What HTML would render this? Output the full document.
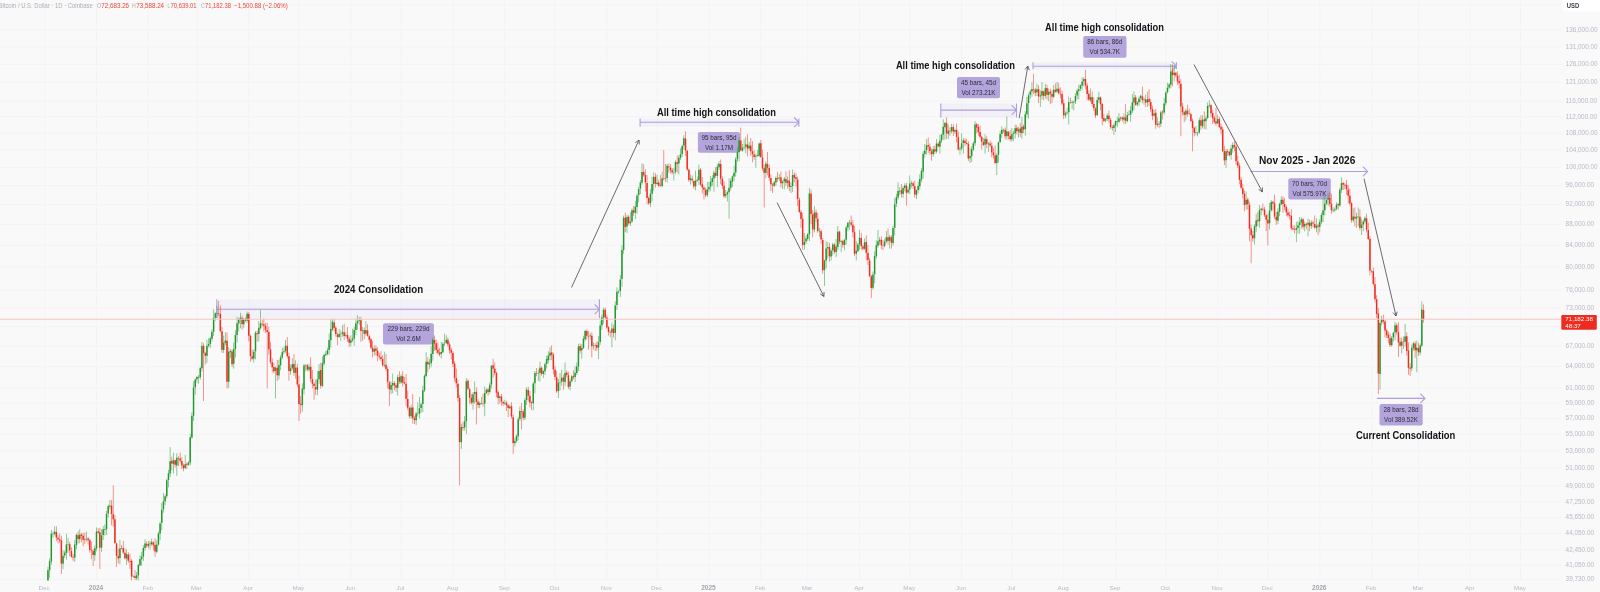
<!DOCTYPE html>
<html><head><meta charset="utf-8"><style>
html,body{margin:0;padding:0;width:1600px;height:592px;overflow:hidden;background:#f9f9fa;font-family:"Liberation Sans", sans-serif;}
</style></head><body>
<svg width="1600" height="592" viewBox="0 0 1600 592" style="position:absolute;left:0;top:0;will-change:transform"><rect width="1600" height="592" fill="#f9f9fa"/><path d="M0 30.10H1561 M0 46.83H1561 M0 64.21H1561 M0 82.29H1561 M0 101.14H1561 M0 116.81H1561 M0 133.05H1561 M0 149.91H1561 M0 167.42H1561 M0 185.65H1561 M0 204.66H1561 M0 224.51H1561 M0 245.29H1561 M0 267.08H1561 M0 289.99H1561 M0 307.97H1561 M0 326.71H1561 M0 346.28H1561 M0 366.73H1561 M0 388.18H1561 M0 403.06H1561 M0 418.46H1561 M0 434.42H1561 M0 450.96H1561 M0 468.14H1561 M0 486.00H1561 M0 502.25H1561 M0 517.63H1561 M0 533.57H1561 M0 550.09H1561 M0 565.07H1561 M0 579.66H1561 M0 4.75H1561 M44.62 0V580.5 M96.50 0V580.5 M148.38 0V580.5 M196.90 0V580.5 M248.78 0V580.5 M298.98 0V580.5 M350.86 0V580.5 M401.06 0V580.5 M452.93 0V580.5 M504.81 0V580.5 M555.01 0V580.5 M606.89 0V580.5 M657.09 0V580.5 M708.96 0V580.5 M760.84 0V580.5 M807.70 0V580.5 M859.57 0V580.5 M909.77 0V580.5 M961.65 0V580.5 M1011.85 0V580.5 M1063.73 0V580.5 M1115.60 0V580.5 M1165.80 0V580.5 M1217.68 0V580.5 M1267.88 0V580.5 M1319.76 0V580.5 M1371.63 0V580.5 M1418.49 0V580.5 M1470.36 0V580.5 M1520.56 0V580.5" stroke="#f3f3f5" stroke-width="1" fill="none"/><rect x="216.8" y="299.3" width="382.59999999999997" height="19.0" fill="rgba(160,140,210,0.07)"/><rect x="640.1" y="118.4" width="158.79999999999995" height="8.299999999999997" fill="rgba(160,140,210,0.07)"/><rect x="940.8" y="103.4" width="75.70000000000005" height="14.199999999999989" fill="rgba(160,140,210,0.07)"/><rect x="1033.0" y="62.2" width="143.4000000000001" height="7.0" fill="rgba(160,140,210,0.07)"/><rect x="383.0" y="323.3" width="50.9" height="21.3" rx="2" fill="#b4a4dc"/><text x="408.45" y="331.30" font-size="6.3" fill="#2b2b33" text-anchor="middle" font-family='"Liberation Sans", sans-serif'>229 bars, 229d</text><text x="408.45" y="340.90" font-size="6.3" fill="#2b2b33" text-anchor="middle" font-family='"Liberation Sans", sans-serif'>Vol 2.6M</text><rect x="697.9" y="131.95" width="42.1" height="20.85" rx="2" fill="#b4a4dc"/><text x="718.95" y="139.95" font-size="6.3" fill="#2b2b33" text-anchor="middle" font-family='"Liberation Sans", sans-serif'>95 bars, 95d</text><text x="718.95" y="149.55" font-size="6.3" fill="#2b2b33" text-anchor="middle" font-family='"Liberation Sans", sans-serif'>Vol 1.17M</text><rect x="957.0" y="77.0" width="43.0" height="21.2" rx="2" fill="#b4a4dc"/><text x="978.50" y="85.00" font-size="6.3" fill="#2b2b33" text-anchor="middle" font-family='"Liberation Sans", sans-serif'>45 bars, 45d</text><text x="978.50" y="94.60" font-size="6.3" fill="#2b2b33" text-anchor="middle" font-family='"Liberation Sans", sans-serif'>Vol 273.21K</text><rect x="1083.2" y="36.1" width="43.3" height="21.6" rx="2" fill="#b4a4dc"/><text x="1104.85" y="44.10" font-size="6.3" fill="#2b2b33" text-anchor="middle" font-family='"Liberation Sans", sans-serif'>86 bars, 86d</text><text x="1104.85" y="53.70" font-size="6.3" fill="#2b2b33" text-anchor="middle" font-family='"Liberation Sans", sans-serif'>Vol 534.7K</text><rect x="1288.3" y="178.2" width="42.5" height="21.3" rx="2" fill="#b4a4dc"/><text x="1309.55" y="186.20" font-size="6.3" fill="#2b2b33" text-anchor="middle" font-family='"Liberation Sans", sans-serif'>70 bars, 70d</text><text x="1309.55" y="195.80" font-size="6.3" fill="#2b2b33" text-anchor="middle" font-family='"Liberation Sans", sans-serif'>Vol 575.97K</text><rect x="1379.5" y="403.9" width="43.2" height="21.6" rx="2" fill="#b4a4dc"/><text x="1401.10" y="411.90" font-size="6.3" fill="#2b2b33" text-anchor="middle" font-family='"Liberation Sans", sans-serif'>28 bars, 28d</text><text x="1401.10" y="421.50" font-size="6.3" fill="#2b2b33" text-anchor="middle" font-family='"Liberation Sans", sans-serif'>Vol 389.52K</text><path d="M216.8 309.3H599.4 M594.6999999999999 304.5L599.4 309.3L594.6999999999999 314.1 M216.8 299.3V318.3 M599.4 299.3V318.3" stroke="#b09ddd" stroke-width="1.1" fill="none"/><path d="M640.1 122.3H798.9 M794.1999999999999 117.5L798.9 122.3L794.1999999999999 127.1 M640.1 118.4V126.7 M798.9 118.4V126.7" stroke="#b09ddd" stroke-width="1.1" fill="none"/><path d="M940.8 110.1H1016.5 M1011.8 105.3L1016.5 110.1L1011.8 114.89999999999999 M940.8 103.4V117.6 M1016.5 103.4V117.6" stroke="#b09ddd" stroke-width="1.1" fill="none"/><path d="M1033.0 66.2H1176.4 M1171.7 61.400000000000006L1176.4 66.2L1171.7 71.0 M1033.0 62.2V69.2 M1176.4 62.2V69.2" stroke="#b09ddd" stroke-width="1.1" fill="none"/><path d="M1250.3 171.5H1367.6 M1362.8999999999999 166.7L1367.6 171.5L1362.8999999999999 176.3" stroke="#b09ddd" stroke-width="1.1" fill="none"/><path d="M1376.9 398.4H1425.0 M1420.3 393.59999999999997L1425.0 398.4L1420.3 403.2" stroke="#b09ddd" stroke-width="1.1" fill="none"/><g clip-path="url(#plot)"><defs><clipPath id="plot"><rect x="0" y="0" width="1561" height="580.5"/></clipPath></defs><path d="M-4.30 609.33h0.8V630.40h-0.8zM0.72 602.11h0.8V618.62h-0.8zM4.06 608.12h0.8V615.43h-0.8zM5.74 600.72h0.8V614.95h-0.8zM9.08 611.02h0.8V618.79h-0.8zM10.76 603.12h0.8V617.57h-0.8zM15.78 605.58h0.8V617.47h-0.8zM17.45 601.98h0.8V620.31h-0.8zM19.12 601.19h0.8V612.03h-0.8zM22.47 605.74h0.8V616.81h-0.8zM24.14 600.32h0.8V613.22h-0.8zM25.82 597.86h0.8V610.06h-0.8zM29.16 604.29h0.8V614.66h-0.8zM30.84 597.31h0.8V608.49h-0.8zM34.18 601.14h0.8V611.66h-0.8zM35.86 597.83h0.8V605.17h-0.8zM39.20 591.52h0.8V604.78h-0.8zM42.55 594.72h0.8V610.68h-0.8zM44.22 596.03h0.8V601.73h-0.8zM47.57 566.64h0.8V608.38h-0.8zM49.24 558.33h0.8V577.66h-0.8zM50.92 529.71h0.8V564.61h-0.8zM52.59 531.28h0.8V538.06h-0.8zM54.27 526.18h0.8V535.58h-0.8zM62.63 550.28h0.8V568.99h-0.8zM64.31 550.47h0.8V558.09h-0.8zM65.98 533.66h0.8V559.74h-0.8zM67.65 537.81h0.8V552.79h-0.8zM74.35 540.17h0.8V562.09h-0.8zM76.02 533.60h0.8V549.15h-0.8zM79.37 529.19h0.8V543.16h-0.8zM86.06 531.63h0.8V541.63h-0.8zM94.43 545.60h0.8V560.81h-0.8zM96.10 527.54h0.8V551.22h-0.8zM101.12 529.17h0.8V551.82h-0.8zM102.79 525.93h0.8V539.96h-0.8zM104.47 524.58h0.8V535.51h-0.8zM106.14 510.79h0.8V535.02h-0.8zM107.81 504.54h0.8V517.38h-0.8zM109.49 500.07h0.8V509.22h-0.8zM119.53 539.93h0.8V564.28h-0.8zM126.22 549.38h0.8V565.04h-0.8zM132.91 575.37h0.8V577.82h-0.8zM136.26 572.00h0.8V580.61h-0.8zM137.94 563.70h0.8V580.83h-0.8zM139.61 555.25h0.8V566.61h-0.8zM141.28 551.75h0.8V565.64h-0.8zM142.96 545.25h0.8V561.07h-0.8zM144.63 539.14h0.8V550.72h-0.8zM147.98 541.00h0.8V548.14h-0.8zM151.32 538.58h0.8V546.15h-0.8zM156.34 540.21h0.8V553.15h-0.8zM158.02 531.53h0.8V545.74h-0.8zM159.69 521.84h0.8V540.20h-0.8zM161.36 502.99h0.8V530.31h-0.8zM163.04 492.96h0.8V512.66h-0.8zM164.71 494.38h0.8V505.00h-0.8zM166.38 478.77h0.8V498.54h-0.8zM168.06 469.60h0.8V487.23h-0.8zM169.73 447.12h0.8V476.92h-0.8zM173.08 452.74h0.8V473.46h-0.8zM176.42 453.17h0.8V475.80h-0.8zM184.79 455.10h0.8V469.35h-0.8zM188.14 461.03h0.8V465.96h-0.8zM189.81 434.03h0.8V465.28h-0.8zM191.48 412.17h0.8V438.54h-0.8zM193.16 381.33h0.8V421.10h-0.8zM194.83 378.41h0.8V394.53h-0.8zM196.50 376.01h0.8V382.74h-0.8zM198.18 374.92h0.8V383.78h-0.8zM199.85 366.56h0.8V379.79h-0.8zM201.52 341.90h0.8V371.77h-0.8zM206.54 339.81h0.8V363.08h-0.8zM208.22 338.26h0.8V347.57h-0.8zM209.89 336.44h0.8V347.88h-0.8zM211.56 329.47h0.8V341.56h-0.8zM213.24 309.12h0.8V336.30h-0.8zM214.91 312.37h0.8V320.81h-0.8zM216.58 305.71h0.8V318.32h-0.8zM223.28 335.49h0.8V353.04h-0.8zM224.95 332.15h0.8V345.33h-0.8zM228.30 347.20h0.8V387.96h-0.8zM229.97 348.99h0.8V358.11h-0.8zM233.32 342.50h0.8V368.75h-0.8zM234.99 330.27h0.8V357.47h-0.8zM236.67 316.70h0.8V342.49h-0.8zM238.34 317.77h0.8V331.45h-0.8zM240.01 312.67h0.8V328.13h-0.8zM243.36 317.79h0.8V327.86h-0.8zM246.71 311.55h0.8V323.11h-0.8zM253.40 349.45h0.8V362.42h-0.8zM255.07 331.02h0.8V359.57h-0.8zM258.42 321.34h0.8V341.17h-0.8zM260.09 309.75h0.8V329.61h-0.8zM275.15 366.45h0.8V398.50h-0.8zM278.50 359.85h0.8V379.50h-0.8zM280.17 355.32h0.8V370.28h-0.8zM281.85 347.64h0.8V359.13h-0.8zM283.52 347.29h0.8V354.06h-0.8zM285.19 339.75h0.8V352.70h-0.8zM290.21 364.47h0.8V374.83h-0.8zM291.89 358.16h0.8V369.63h-0.8zM295.23 360.30h0.8V378.72h-0.8zM301.93 383.34h0.8V411.48h-0.8zM303.60 363.82h0.8V394.26h-0.8zM305.28 364.16h0.8V371.20h-0.8zM308.62 363.77h0.8V371.72h-0.8zM316.99 370.90h0.8V395.21h-0.8zM318.66 364.00h0.8V383.71h-0.8zM322.01 356.51h0.8V387.27h-0.8zM323.68 353.43h0.8V365.49h-0.8zM325.36 351.03h0.8V356.30h-0.8zM327.03 347.63h0.8V355.17h-0.8zM328.70 333.35h0.8V354.73h-0.8zM330.38 319.51h0.8V347.85h-0.8zM332.05 319.34h0.8V331.09h-0.8zM338.74 328.94h0.8V338.04h-0.8zM340.42 330.47h0.8V340.89h-0.8zM342.09 325.35h0.8V336.90h-0.8zM345.44 331.91h0.8V337.35h-0.8zM350.46 335.14h0.8V346.44h-0.8zM352.13 328.76h0.8V342.09h-0.8zM353.80 326.85h0.8V345.75h-0.8zM355.48 318.87h0.8V335.26h-0.8zM357.15 315.16h0.8V329.70h-0.8zM358.82 317.03h0.8V325.34h-0.8zM362.17 327.11h0.8V340.68h-0.8zM365.52 320.91h0.8V335.67h-0.8zM373.88 345.36h0.8V355.56h-0.8zM383.92 351.63h0.8V367.31h-0.8zM390.62 381.42h0.8V394.05h-0.8zM392.29 373.38h0.8V393.35h-0.8zM397.31 374.41h0.8V395.40h-0.8zM400.66 374.32h0.8V383.99h-0.8zM410.70 404.80h0.8V418.80h-0.8zM415.72 411.64h0.8V425.01h-0.8zM417.39 402.22h0.8V416.44h-0.8zM419.07 396.93h0.8V418.60h-0.8zM420.74 402.43h0.8V412.90h-0.8zM422.41 385.65h0.8V411.99h-0.8zM424.09 374.21h0.8V391.98h-0.8zM425.76 352.31h0.8V377.25h-0.8zM429.11 359.07h0.8V368.88h-0.8zM430.78 345.64h0.8V367.24h-0.8zM432.45 337.22h0.8V360.70h-0.8zM440.82 341.82h0.8V358.55h-0.8zM442.49 342.23h0.8V353.07h-0.8zM444.17 333.49h0.8V345.94h-0.8zM445.84 335.33h0.8V343.96h-0.8zM460.90 423.83h0.8V448.95h-0.8zM464.25 416.07h0.8V430.49h-0.8zM465.92 378.04h0.8V433.99h-0.8zM472.62 391.93h0.8V409.46h-0.8zM474.29 381.62h0.8V403.91h-0.8zM479.31 401.13h0.8V408.30h-0.8zM480.98 397.12h0.8V404.21h-0.8zM484.33 386.56h0.8V416.19h-0.8zM486.00 388.32h0.8V394.03h-0.8zM489.35 382.53h0.8V393.84h-0.8zM491.02 364.95h0.8V388.50h-0.8zM499.39 395.42h0.8V403.54h-0.8zM504.41 399.63h0.8V405.02h-0.8zM509.43 404.52h0.8V409.12h-0.8zM514.45 437.71h0.8V446.46h-0.8zM516.12 434.42h0.8V442.57h-0.8zM517.80 416.82h0.8V440.36h-0.8zM519.47 406.58h0.8V421.04h-0.8zM524.49 398.05h0.8V419.91h-0.8zM526.16 387.24h0.8V405.04h-0.8zM532.86 382.01h0.8V410.28h-0.8zM534.53 370.90h0.8V393.15h-0.8zM537.88 369.62h0.8V381.11h-0.8zM539.55 361.84h0.8V381.44h-0.8zM542.90 370.06h0.8V377.92h-0.8zM544.57 362.48h0.8V375.08h-0.8zM546.24 355.64h0.8V368.45h-0.8zM547.92 351.32h0.8V363.13h-0.8zM549.59 346.99h0.8V360.21h-0.8zM557.96 379.01h0.8V398.01h-0.8zM559.63 372.98h0.8V390.48h-0.8zM561.31 369.83h0.8V385.43h-0.8zM564.65 362.44h0.8V386.27h-0.8zM569.67 378.55h0.8V390.60h-0.8zM571.35 374.67h0.8V382.50h-0.8zM574.69 366.27h0.8V382.03h-0.8zM576.37 362.27h0.8V375.04h-0.8zM578.04 343.65h0.8V370.95h-0.8zM581.39 343.89h0.8V358.64h-0.8zM583.06 335.78h0.8V349.05h-0.8zM584.73 329.80h0.8V341.36h-0.8zM589.75 332.87h0.8V339.68h-0.8zM593.10 342.56h0.8V349.62h-0.8zM598.12 336.01h0.8V358.91h-0.8zM599.79 320.71h0.8V344.68h-0.8zM601.47 314.58h0.8V329.63h-0.8zM603.14 307.81h0.8V323.79h-0.8zM611.51 322.62h0.8V347.25h-0.8zM614.85 301.30h0.8V340.30h-0.8zM616.53 287.24h0.8V310.12h-0.8zM618.20 290.23h0.8V293.64h-0.8zM619.87 274.97h0.8V296.89h-0.8zM621.55 245.12h0.8V286.83h-0.8zM623.22 215.54h0.8V253.82h-0.8zM626.57 214.68h0.8V232.96h-0.8zM629.91 212.22h0.8V225.89h-0.8zM631.59 208.49h0.8V222.59h-0.8zM634.93 201.32h0.8V219.12h-0.8zM636.61 193.85h0.8V213.77h-0.8zM638.28 186.81h0.8V202.19h-0.8zM639.96 180.03h0.8V193.88h-0.8zM641.63 163.14h0.8V184.78h-0.8zM650.00 188.92h0.8V207.08h-0.8zM651.67 176.83h0.8V201.30h-0.8zM653.34 172.32h0.8V191.18h-0.8zM656.69 174.75h0.8V185.27h-0.8zM661.71 171.58h0.8V187.38h-0.8zM666.73 163.70h0.8V182.46h-0.8zM673.42 168.05h0.8V180.40h-0.8zM675.10 160.16h0.8V174.19h-0.8zM678.44 155.07h0.8V174.27h-0.8zM680.12 148.13h0.8V159.92h-0.8zM681.79 144.48h0.8V156.86h-0.8zM683.46 135.20h0.8V149.44h-0.8zM690.16 174.62h0.8V184.57h-0.8zM695.18 170.62h0.8V190.31h-0.8zM696.85 176.41h0.8V181.76h-0.8zM698.52 164.46h0.8V185.08h-0.8zM706.89 182.00h0.8V196.98h-0.8zM708.56 181.77h0.8V192.29h-0.8zM710.24 176.10h0.8V190.95h-0.8zM711.91 175.19h0.8V185.70h-0.8zM713.58 170.58h0.8V191.81h-0.8zM716.93 163.72h0.8V187.21h-0.8zM718.60 161.37h0.8V169.99h-0.8zM725.30 190.11h0.8V198.37h-0.8zM726.97 190.79h0.8V201.41h-0.8zM728.65 178.24h0.8V218.75h-0.8zM730.32 178.84h0.8V190.50h-0.8zM731.99 175.22h0.8V186.89h-0.8zM733.67 165.82h0.8V181.21h-0.8zM735.34 156.91h0.8V176.69h-0.8zM737.01 147.21h0.8V161.67h-0.8zM738.69 137.18h0.8V160.92h-0.8zM742.03 143.93h0.8V151.79h-0.8zM743.71 138.95h0.8V149.39h-0.8zM745.38 136.83h0.8V153.27h-0.8zM748.73 142.12h0.8V150.73h-0.8zM755.42 153.65h0.8V167.73h-0.8zM757.09 149.94h0.8V156.66h-0.8zM758.77 142.43h0.8V157.28h-0.8zM765.46 161.19h0.8V178.13h-0.8zM773.83 180.99h0.8V187.03h-0.8zM775.50 176.32h0.8V185.92h-0.8zM778.85 173.94h0.8V181.12h-0.8zM782.19 180.47h0.8V189.09h-0.8zM783.87 176.93h0.8V189.27h-0.8zM787.21 176.53h0.8V188.83h-0.8zM790.56 182.33h0.8V192.88h-0.8zM792.23 169.56h0.8V192.03h-0.8zM803.95 233.05h0.8V249.79h-0.8zM805.62 235.49h0.8V243.95h-0.8zM807.30 233.17h0.8V240.68h-0.8zM808.97 187.99h0.8V241.05h-0.8zM813.99 206.21h0.8V232.33h-0.8zM819.01 227.76h0.8V236.65h-0.8zM824.03 259.74h0.8V286.10h-0.8zM825.70 241.51h0.8V268.19h-0.8zM827.38 241.69h0.8V258.43h-0.8zM830.72 248.71h0.8V260.49h-0.8zM832.40 242.76h0.8V255.46h-0.8zM835.74 239.01h0.8V257.15h-0.8zM837.42 225.91h0.8V250.32h-0.8zM840.76 239.85h0.8V252.33h-0.8zM844.11 238.67h0.8V250.28h-0.8zM845.78 225.43h0.8V244.47h-0.8zM847.46 221.89h0.8V231.17h-0.8zM849.13 219.92h0.8V229.89h-0.8zM855.82 240.89h0.8V260.39h-0.8zM857.50 243.01h0.8V252.12h-0.8zM859.17 229.75h0.8V249.72h-0.8zM864.19 238.45h0.8V250.12h-0.8zM872.56 271.51h0.8V289.61h-0.8zM874.23 251.18h0.8V283.29h-0.8zM875.90 240.27h0.8V258.82h-0.8zM877.58 229.99h0.8V247.68h-0.8zM879.25 236.96h0.8V244.89h-0.8zM884.27 238.63h0.8V247.17h-0.8zM885.94 231.07h0.8V242.77h-0.8zM889.29 234.70h0.8V248.78h-0.8zM892.64 226.03h0.8V245.60h-0.8zM894.31 198.13h0.8V235.62h-0.8zM895.99 193.69h0.8V207.12h-0.8zM897.66 182.26h0.8V199.75h-0.8zM899.33 187.11h0.8V195.30h-0.8zM902.68 186.08h0.8V197.86h-0.8zM904.35 183.21h0.8V191.19h-0.8zM907.70 187.16h0.8V193.41h-0.8zM909.37 175.57h0.8V194.22h-0.8zM911.05 180.84h0.8V187.55h-0.8zM916.07 189.28h0.8V198.96h-0.8zM917.74 181.42h0.8V193.35h-0.8zM919.41 174.15h0.8V189.63h-0.8zM921.09 168.22h0.8V182.34h-0.8zM922.76 150.97h0.8V178.27h-0.8zM924.43 144.03h0.8V157.84h-0.8zM926.11 139.37h0.8V154.80h-0.8zM932.80 146.08h0.8V156.69h-0.8zM936.15 138.97h0.8V153.37h-0.8zM939.49 134.79h0.8V153.47h-0.8zM941.17 133.77h0.8V142.94h-0.8zM942.84 119.21h0.8V139.79h-0.8zM944.51 121.83h0.8V139.68h-0.8zM947.86 124.51h0.8V139.04h-0.8zM951.21 124.00h0.8V133.45h-0.8zM954.55 128.45h0.8V134.10h-0.8zM959.57 146.28h0.8V154.87h-0.8zM961.25 133.30h0.8V150.39h-0.8zM962.92 138.31h0.8V153.61h-0.8zM969.61 147.64h0.8V163.10h-0.8zM971.29 146.08h0.8V161.94h-0.8zM972.96 141.39h0.8V150.87h-0.8zM974.63 121.21h0.8V146.07h-0.8zM984.68 134.33h0.8V153.83h-0.8zM988.02 142.00h0.8V152.06h-0.8zM996.39 153.30h0.8V175.00h-0.8zM998.06 141.50h0.8V162.77h-0.8zM999.74 130.79h0.8V143.29h-0.8zM1001.41 126.24h0.8V137.91h-0.8zM1003.08 128.51h0.8V132.97h-0.8zM1006.43 116.54h0.8V139.74h-0.8zM1011.45 127.99h0.8V141.35h-0.8zM1013.12 130.75h0.8V141.20h-0.8zM1014.80 124.78h0.8V138.40h-0.8zM1018.14 126.93h0.8V137.52h-0.8zM1021.49 116.82h0.8V138.84h-0.8zM1024.84 111.02h0.8V135.71h-0.8zM1026.51 97.09h0.8V117.43h-0.8zM1028.18 93.24h0.8V118.46h-0.8zM1029.86 89.72h0.8V98.50h-0.8zM1031.53 82.31h0.8V96.78h-0.8zM1036.55 83.69h0.8V95.99h-0.8zM1039.90 90.30h0.8V107.01h-0.8zM1041.57 82.07h0.8V99.55h-0.8zM1044.92 83.95h0.8V98.56h-0.8zM1048.26 88.39h0.8V101.14h-0.8zM1053.28 85.35h0.8V98.19h-0.8zM1056.63 82.07h0.8V93.28h-0.8zM1065.00 111.14h0.8V118.31h-0.8zM1066.67 107.79h0.8V114.67h-0.8zM1068.35 96.38h0.8V124.54h-0.8zM1071.69 100.34h0.8V108.99h-0.8zM1073.37 100.71h0.8V110.33h-0.8zM1075.04 93.34h0.8V104.05h-0.8zM1076.71 88.52h0.8V99.22h-0.8zM1078.39 84.59h0.8V99.40h-0.8zM1080.06 84.47h0.8V90.95h-0.8zM1081.73 77.33h0.8V89.66h-0.8zM1083.41 77.30h0.8V86.26h-0.8zM1090.10 88.49h0.8V102.00h-0.8zM1096.79 96.93h0.8V116.12h-0.8zM1098.47 91.79h0.8V103.08h-0.8zM1105.16 118.26h0.8V122.26h-0.8zM1106.83 113.22h0.8V120.91h-0.8zM1113.53 123.60h0.8V135.10h-0.8zM1115.20 120.51h0.8V131.88h-0.8zM1116.87 116.57h0.8V127.34h-0.8zM1118.55 112.95h0.8V123.33h-0.8zM1123.57 113.31h0.8V123.84h-0.8zM1126.91 111.66h0.8V122.39h-0.8zM1128.59 110.38h0.8V115.77h-0.8zM1130.26 105.92h0.8V122.06h-0.8zM1131.93 93.93h0.8V113.12h-0.8zM1133.61 91.48h0.8V110.36h-0.8zM1136.95 101.14h0.8V106.30h-0.8zM1138.63 96.29h0.8V105.85h-0.8zM1140.30 94.71h0.8V102.33h-0.8zM1143.65 97.86h0.8V104.66h-0.8zM1147.00 91.75h0.8V106.93h-0.8zM1153.69 109.94h0.8V116.64h-0.8zM1157.04 117.19h0.8V126.89h-0.8zM1160.38 110.69h0.8V127.08h-0.8zM1163.73 97.85h0.8V114.69h-0.8zM1165.40 91.62h0.8V105.61h-0.8zM1167.08 82.75h0.8V93.49h-0.8zM1168.75 83.05h0.8V89.21h-0.8zM1170.42 64.05h0.8V88.31h-0.8zM1173.77 65.00h0.8V81.24h-0.8zM1185.48 108.74h0.8V120.51h-0.8zM1195.52 126.08h0.8V135.34h-0.8zM1197.20 131.72h0.8V136.30h-0.8zM1198.87 117.69h0.8V133.63h-0.8zM1202.22 115.36h0.8V128.17h-0.8zM1205.56 115.69h0.8V129.53h-0.8zM1207.24 102.46h0.8V119.12h-0.8zM1208.91 100.00h0.8V107.58h-0.8zM1217.28 114.89h0.8V124.26h-0.8zM1225.64 148.91h0.8V167.81h-0.8zM1230.67 144.73h0.8V159.74h-0.8zM1232.34 142.26h0.8V152.80h-0.8zM1245.73 191.53h0.8V209.49h-0.8zM1254.09 224.32h0.8V244.77h-0.8zM1255.77 213.75h0.8V232.35h-0.8zM1259.11 205.10h0.8V227.73h-0.8zM1260.79 207.42h0.8V215.21h-0.8zM1269.15 202.97h0.8V229.44h-0.8zM1270.83 200.07h0.8V211.87h-0.8zM1277.52 208.34h0.8V224.01h-0.8zM1279.19 202.40h0.8V216.32h-0.8zM1280.87 196.22h0.8V205.24h-0.8zM1295.93 221.75h0.8V242.20h-0.8zM1297.60 221.24h0.8V233.68h-0.8zM1299.27 216.98h0.8V233.80h-0.8zM1300.95 217.20h0.8V228.45h-0.8zM1304.29 221.55h0.8V231.58h-0.8zM1307.64 218.65h0.8V236.22h-0.8zM1310.99 220.58h0.8V228.77h-0.8zM1316.01 218.42h0.8V232.15h-0.8zM1319.36 219.34h0.8V232.48h-0.8zM1321.03 212.67h0.8V224.35h-0.8zM1322.70 198.21h0.8V222.05h-0.8zM1324.38 195.87h0.8V215.41h-0.8zM1326.05 199.09h0.8V204.66h-0.8zM1327.72 193.27h0.8V205.64h-0.8zM1332.74 207.37h0.8V212.60h-0.8zM1334.42 207.43h0.8V211.80h-0.8zM1336.09 202.22h0.8V210.33h-0.8zM1339.44 187.81h0.8V206.82h-0.8zM1341.11 177.20h0.8V193.11h-0.8zM1352.82 208.29h0.8V222.50h-0.8zM1356.17 212.84h0.8V228.00h-0.8zM1357.84 207.54h0.8V226.15h-0.8zM1361.19 218.63h0.8V234.88h-0.8zM1362.86 219.75h0.8V231.25h-0.8zM1364.54 216.41h0.8V223.73h-0.8zM1379.60 320.49h0.8V389.47h-0.8zM1381.27 315.66h0.8V325.45h-0.8zM1391.31 335.95h0.8V346.50h-0.8zM1392.98 331.94h0.8V341.53h-0.8zM1394.66 321.73h0.8V340.17h-0.8zM1401.35 337.79h0.8V353.57h-0.8zM1404.70 324.06h0.8V346.87h-0.8zM1411.39 344.38h0.8V371.17h-0.8zM1413.07 342.11h0.8V350.49h-0.8zM1416.41 340.61h0.8V372.30h-0.8zM1419.76 343.52h0.8V355.26h-0.8zM1421.43 301.55h0.8V346.85h-0.8z" fill="#22992e" opacity="0.62"/><path d="M-5.98 611.56h0.8V622.95h-0.8zM-2.63 611.94h0.8V617.75h-0.8zM-0.96 609.87h0.8V622.54h-0.8zM2.39 608.15h0.8V617.34h-0.8zM7.41 603.94h0.8V620.71h-0.8zM12.43 605.70h0.8V612.35h-0.8zM14.10 605.64h0.8V615.09h-0.8zM20.80 600.12h0.8V613.48h-0.8zM27.49 595.99h0.8V612.66h-0.8zM32.51 599.97h0.8V615.06h-0.8zM37.53 590.87h0.8V607.04h-0.8zM40.88 590.00h0.8V609.97h-0.8zM45.90 596.90h0.8V611.91h-0.8zM55.94 526.30h0.8V541.14h-0.8zM57.61 535.30h0.8V543.42h-0.8zM59.29 533.26h0.8V542.72h-0.8zM60.96 535.67h0.8V574.00h-0.8zM69.33 541.69h0.8V556.60h-0.8zM71.00 547.27h0.8V557.66h-0.8zM72.67 553.97h0.8V561.08h-0.8zM77.69 531.56h0.8V543.40h-0.8zM81.04 532.92h0.8V542.06h-0.8zM82.71 532.49h0.8V546.26h-0.8zM84.39 532.69h0.8V543.94h-0.8zM87.73 537.22h0.8V544.80h-0.8zM89.41 538.71h0.8V552.76h-0.8zM91.08 541.84h0.8V559.04h-0.8zM92.75 549.21h0.8V566.07h-0.8zM97.77 528.25h0.8V533.83h-0.8zM99.45 527.69h0.8V569.00h-0.8zM111.16 499.89h0.8V525.24h-0.8zM112.83 485.25h0.8V526.74h-0.8zM114.51 514.88h0.8V544.05h-0.8zM116.18 542.47h0.8V566.84h-0.8zM117.85 548.43h0.8V563.45h-0.8zM121.20 544.90h0.8V549.36h-0.8zM122.87 541.06h0.8V554.01h-0.8zM124.55 547.84h0.8V559.58h-0.8zM127.89 552.35h0.8V562.80h-0.8zM129.57 553.76h0.8V568.93h-0.8zM131.24 559.06h0.8V591.38h-0.8zM134.59 569.97h0.8V580.02h-0.8zM146.30 541.33h0.8V547.78h-0.8zM149.65 540.73h0.8V549.55h-0.8zM153.00 541.29h0.8V550.16h-0.8zM154.67 538.20h0.8V556.74h-0.8zM171.40 456.59h0.8V470.57h-0.8zM174.75 459.38h0.8V467.41h-0.8zM178.10 456.37h0.8V465.95h-0.8zM179.77 452.41h0.8V462.42h-0.8zM181.44 457.33h0.8V469.06h-0.8zM183.12 463.54h0.8V471.28h-0.8zM186.46 462.54h0.8V468.89h-0.8zM203.20 343.25h0.8V401.00h-0.8zM204.87 351.72h0.8V364.56h-0.8zM218.26 301.00h0.8V316.19h-0.8zM219.93 305.59h0.8V332.46h-0.8zM221.60 326.89h0.8V352.70h-0.8zM226.63 332.62h0.8V388.50h-0.8zM231.65 349.19h0.8V367.04h-0.8zM241.69 315.51h0.8V329.69h-0.8zM245.03 317.58h0.8V321.73h-0.8zM248.38 311.91h0.8V341.37h-0.8zM250.05 334.57h0.8V361.68h-0.8zM251.73 349.56h0.8V360.35h-0.8zM256.75 330.44h0.8V341.76h-0.8zM261.77 319.76h0.8V326.80h-0.8zM263.44 318.47h0.8V331.62h-0.8zM265.11 323.09h0.8V333.09h-0.8zM266.79 322.81h0.8V388.50h-0.8zM268.46 326.81h0.8V354.81h-0.8zM270.13 341.97h0.8V364.27h-0.8zM271.81 357.94h0.8V372.41h-0.8zM273.48 362.83h0.8V373.46h-0.8zM276.83 359.99h0.8V381.06h-0.8zM286.87 337.03h0.8V358.53h-0.8zM288.54 352.79h0.8V380.67h-0.8zM293.56 353.88h0.8V375.69h-0.8zM296.91 363.79h0.8V387.55h-0.8zM298.58 375.71h0.8V421.00h-0.8zM300.25 396.09h0.8V413.83h-0.8zM306.95 364.30h0.8V371.35h-0.8zM310.30 357.20h0.8V382.20h-0.8zM311.97 370.04h0.8V388.31h-0.8zM313.64 382.37h0.8V399.84h-0.8zM315.32 379.55h0.8V394.97h-0.8zM320.34 362.67h0.8V388.39h-0.8zM333.72 318.78h0.8V331.43h-0.8zM335.40 325.98h0.8V336.70h-0.8zM337.07 332.64h0.8V345.23h-0.8zM343.76 323.66h0.8V340.05h-0.8zM347.11 327.00h0.8V342.08h-0.8zM348.78 336.60h0.8V347.08h-0.8zM360.50 316.86h0.8V341.79h-0.8zM363.84 327.47h0.8V339.30h-0.8zM367.19 324.18h0.8V336.81h-0.8zM368.86 334.83h0.8V342.66h-0.8zM370.54 337.79h0.8V349.00h-0.8zM372.21 340.48h0.8V357.20h-0.8zM375.56 345.30h0.8V355.76h-0.8zM377.23 347.16h0.8V361.21h-0.8zM378.90 352.71h0.8V359.49h-0.8zM380.58 351.25h0.8V361.19h-0.8zM382.25 354.93h0.8V366.82h-0.8zM385.60 353.95h0.8V371.26h-0.8zM387.27 366.69h0.8V388.41h-0.8zM388.95 381.10h0.8V406.00h-0.8zM393.97 380.96h0.8V390.29h-0.8zM395.64 383.15h0.8V391.79h-0.8zM398.99 371.23h0.8V383.83h-0.8zM402.33 371.20h0.8V386.38h-0.8zM404.01 376.99h0.8V384.40h-0.8zM405.68 374.34h0.8V406.24h-0.8zM407.35 390.39h0.8V410.35h-0.8zM409.03 406.55h0.8V418.50h-0.8zM412.37 394.13h0.8V423.83h-0.8zM414.05 415.84h0.8V424.00h-0.8zM427.43 357.21h0.8V372.20h-0.8zM434.13 335.57h0.8V350.73h-0.8zM435.80 339.45h0.8V353.34h-0.8zM437.47 342.55h0.8V354.42h-0.8zM439.15 348.07h0.8V356.33h-0.8zM447.51 337.18h0.8V346.66h-0.8zM449.19 342.24h0.8V353.67h-0.8zM450.86 347.67h0.8V359.77h-0.8zM452.53 351.34h0.8V367.10h-0.8zM454.21 361.08h0.8V381.40h-0.8zM455.88 368.61h0.8V387.43h-0.8zM457.55 379.64h0.8V401.74h-0.8zM459.23 394.78h0.8V485.30h-0.8zM462.57 421.69h0.8V430.75h-0.8zM467.59 379.28h0.8V390.21h-0.8zM469.27 387.40h0.8V403.99h-0.8zM470.94 393.79h0.8V404.49h-0.8zM475.96 387.17h0.8V424.50h-0.8zM477.64 399.14h0.8V408.35h-0.8zM482.66 393.71h0.8V406.50h-0.8zM487.68 387.83h0.8V395.81h-0.8zM492.70 358.70h0.8V377.30h-0.8zM494.37 362.30h0.8V375.16h-0.8zM496.04 371.63h0.8V397.23h-0.8zM497.72 390.29h0.8V404.38h-0.8zM501.06 393.95h0.8V405.48h-0.8zM502.74 400.84h0.8V405.77h-0.8zM506.08 400.69h0.8V410.93h-0.8zM507.76 404.26h0.8V416.97h-0.8zM511.10 402.13h0.8V418.77h-0.8zM512.78 414.86h0.8V454.00h-0.8zM521.14 403.03h0.8V429.60h-0.8zM522.82 409.46h0.8V420.47h-0.8zM527.84 386.65h0.8V401.41h-0.8zM529.51 391.09h0.8V407.40h-0.8zM531.18 401.30h0.8V410.11h-0.8zM536.20 368.09h0.8V376.23h-0.8zM541.22 366.59h0.8V375.74h-0.8zM551.26 345.21h0.8V360.06h-0.8zM552.94 352.67h0.8V374.38h-0.8zM554.61 366.03h0.8V379.90h-0.8zM556.28 370.75h0.8V392.99h-0.8zM562.98 374.74h0.8V389.63h-0.8zM566.33 370.62h0.8V377.22h-0.8zM568.00 371.71h0.8V389.05h-0.8zM573.02 370.18h0.8V379.48h-0.8zM579.71 343.59h0.8V353.42h-0.8zM586.41 329.40h0.8V339.43h-0.8zM588.08 331.10h0.8V349.87h-0.8zM591.43 332.38h0.8V357.25h-0.8zM594.77 343.37h0.8V351.10h-0.8zM596.45 341.36h0.8V350.85h-0.8zM604.81 307.55h0.8V318.75h-0.8zM606.49 314.74h0.8V329.17h-0.8zM608.16 326.01h0.8V335.56h-0.8zM609.83 330.15h0.8V337.22h-0.8zM613.18 324.74h0.8V337.51h-0.8zM624.89 212.60h0.8V232.05h-0.8zM628.24 215.34h0.8V224.78h-0.8zM633.26 206.12h0.8V215.86h-0.8zM643.30 164.31h0.8V176.69h-0.8zM644.98 169.36h0.8V191.54h-0.8zM646.65 175.04h0.8V204.25h-0.8zM648.32 196.19h0.8V205.01h-0.8zM655.02 173.21h0.8V187.58h-0.8zM658.36 179.52h0.8V187.17h-0.8zM660.04 175.26h0.8V186.73h-0.8zM663.38 150.00h0.8V180.82h-0.8zM665.06 163.90h0.8V181.76h-0.8zM668.40 163.43h0.8V172.66h-0.8zM670.08 163.98h0.8V173.50h-0.8zM671.75 167.89h0.8V174.35h-0.8zM676.77 155.42h0.8V172.86h-0.8zM685.14 131.25h0.8V155.94h-0.8zM686.81 149.77h0.8V171.08h-0.8zM688.48 168.48h0.8V181.95h-0.8zM691.83 175.50h0.8V182.84h-0.8zM693.50 180.16h0.8V189.07h-0.8zM700.20 168.37h0.8V185.97h-0.8zM701.87 177.06h0.8V193.45h-0.8zM703.54 185.53h0.8V199.59h-0.8zM705.22 187.87h0.8V197.18h-0.8zM715.26 167.31h0.8V177.72h-0.8zM720.28 159.41h0.8V184.36h-0.8zM721.95 176.16h0.8V189.02h-0.8zM723.62 181.20h0.8V197.77h-0.8zM740.36 127.50h0.8V151.16h-0.8zM747.05 134.27h0.8V156.47h-0.8zM750.40 138.06h0.8V156.11h-0.8zM752.07 141.11h0.8V162.35h-0.8zM753.75 150.31h0.8V159.72h-0.8zM760.44 140.05h0.8V157.95h-0.8zM762.11 149.50h0.8V171.08h-0.8zM763.79 164.70h0.8V207.50h-0.8zM767.13 152.11h0.8V175.28h-0.8zM768.81 164.82h0.8V180.76h-0.8zM770.48 174.24h0.8V191.10h-0.8zM772.15 183.04h0.8V192.88h-0.8zM777.17 171.90h0.8V181.95h-0.8zM780.52 171.52h0.8V187.59h-0.8zM785.54 171.18h0.8V185.71h-0.8zM788.89 170.37h0.8V191.32h-0.8zM793.91 172.23h0.8V182.21h-0.8zM795.58 173.58h0.8V186.68h-0.8zM797.25 176.85h0.8V205.88h-0.8zM798.93 197.47h0.8V213.14h-0.8zM800.60 209.88h0.8V227.83h-0.8zM802.27 213.04h0.8V249.74h-0.8zM810.64 189.78h0.8V224.04h-0.8zM812.32 209.99h0.8V237.34h-0.8zM815.66 209.87h0.8V222.21h-0.8zM817.34 212.84h0.8V232.78h-0.8zM820.68 229.33h0.8V243.79h-0.8zM822.36 238.01h0.8V273.65h-0.8zM829.05 243.07h0.8V261.69h-0.8zM834.07 243.33h0.8V253.65h-0.8zM839.09 230.68h0.8V244.05h-0.8zM842.44 239.72h0.8V247.67h-0.8zM850.80 215.57h0.8V226.74h-0.8zM852.48 220.06h0.8V237.39h-0.8zM854.15 226.05h0.8V256.33h-0.8zM860.84 232.76h0.8V249.85h-0.8zM862.52 244.72h0.8V250.29h-0.8zM865.86 235.43h0.8V260.30h-0.8zM867.54 245.09h0.8V264.99h-0.8zM869.21 257.79h0.8V276.95h-0.8zM870.88 274.99h0.8V298.00h-0.8zM880.92 236.16h0.8V249.13h-0.8zM882.60 240.01h0.8V250.35h-0.8zM887.62 228.55h0.8V244.83h-0.8zM890.97 235.26h0.8V248.51h-0.8zM901.01 184.08h0.8V197.42h-0.8zM906.03 182.83h0.8V205.58h-0.8zM912.72 181.70h0.8V188.70h-0.8zM914.39 180.78h0.8V197.84h-0.8zM927.78 137.21h0.8V153.00h-0.8zM929.45 143.54h0.8V154.71h-0.8zM931.13 148.51h0.8V160.69h-0.8zM934.47 145.71h0.8V153.91h-0.8zM937.82 142.13h0.8V147.14h-0.8zM946.19 117.50h0.8V138.70h-0.8zM949.53 127.27h0.8V136.07h-0.8zM952.88 124.33h0.8V136.09h-0.8zM956.23 123.72h0.8V142.20h-0.8zM957.90 131.43h0.8V150.40h-0.8zM964.59 138.29h0.8V146.18h-0.8zM966.27 139.07h0.8V144.79h-0.8zM967.94 141.23h0.8V161.12h-0.8zM976.31 123.20h0.8V133.16h-0.8zM977.98 123.96h0.8V135.83h-0.8zM979.66 125.63h0.8V138.62h-0.8zM981.33 135.63h0.8V149.39h-0.8zM983.00 138.17h0.8V146.12h-0.8zM986.35 136.37h0.8V148.36h-0.8zM989.70 140.59h0.8V147.15h-0.8zM991.37 142.21h0.8V157.36h-0.8zM993.04 147.92h0.8V158.58h-0.8zM994.72 145.58h0.8V164.03h-0.8zM1004.76 127.45h0.8V139.16h-0.8zM1008.10 130.67h0.8V139.44h-0.8zM1009.78 130.36h0.8V141.56h-0.8zM1016.47 125.04h0.8V134.49h-0.8zM1019.82 123.03h0.8V137.12h-0.8zM1023.16 124.55h0.8V133.02h-0.8zM1033.20 73.75h0.8V93.91h-0.8zM1034.88 87.96h0.8V96.22h-0.8zM1038.22 85.36h0.8V103.02h-0.8zM1043.24 90.52h0.8V100.37h-0.8zM1046.59 84.65h0.8V99.42h-0.8zM1049.94 88.63h0.8V104.30h-0.8zM1051.61 90.20h0.8V103.06h-0.8zM1054.96 83.37h0.8V92.67h-0.8zM1058.30 82.81h0.8V94.54h-0.8zM1059.98 87.62h0.8V98.48h-0.8zM1061.65 90.46h0.8V105.26h-0.8zM1063.33 99.40h0.8V118.94h-0.8zM1070.02 97.80h0.8V103.51h-0.8zM1085.08 70.00h0.8V89.33h-0.8zM1086.75 83.00h0.8V100.25h-0.8zM1088.43 90.13h0.8V100.97h-0.8zM1091.77 91.62h0.8V106.71h-0.8zM1093.45 97.13h0.8V110.94h-0.8zM1095.12 107.35h0.8V117.91h-0.8zM1100.14 96.41h0.8V110.40h-0.8zM1101.81 102.80h0.8V125.59h-0.8zM1103.49 113.64h0.8V122.01h-0.8zM1108.51 110.60h0.8V122.78h-0.8zM1110.18 117.64h0.8V128.91h-0.8zM1111.85 124.96h0.8V130.63h-0.8zM1120.22 116.44h0.8V120.80h-0.8zM1121.89 116.29h0.8V121.47h-0.8zM1125.24 104.12h0.8V124.17h-0.8zM1135.28 94.95h0.8V106.02h-0.8zM1141.97 86.38h0.8V103.34h-0.8zM1145.32 94.79h0.8V106.89h-0.8zM1148.67 89.27h0.8V105.94h-0.8zM1150.34 99.24h0.8V112.21h-0.8zM1152.02 105.76h0.8V120.36h-0.8zM1155.36 108.79h0.8V128.84h-0.8zM1158.71 120.93h0.8V128.20h-0.8zM1162.06 110.02h0.8V119.57h-0.8zM1172.10 64.61h0.8V86.24h-0.8zM1175.44 71.71h0.8V77.53h-0.8zM1177.12 71.23h0.8V84.94h-0.8zM1178.79 74.44h0.8V88.58h-0.8zM1180.46 79.13h0.8V136.25h-0.8zM1182.14 102.80h0.8V115.44h-0.8zM1183.81 110.53h0.8V122.34h-0.8zM1187.16 104.47h0.8V116.69h-0.8zM1188.83 108.82h0.8V115.20h-0.8zM1190.50 112.80h0.8V122.05h-0.8zM1192.18 118.60h0.8V151.25h-0.8zM1193.85 126.83h0.8V136.51h-0.8zM1200.54 115.24h0.8V129.70h-0.8zM1203.89 111.60h0.8V129.06h-0.8zM1210.58 103.84h0.8V116.90h-0.8zM1212.26 109.72h0.8V123.99h-0.8zM1213.93 115.87h0.8V123.64h-0.8zM1215.60 107.63h0.8V125.66h-0.8zM1218.95 116.65h0.8V128.27h-0.8zM1220.62 123.76h0.8V133.63h-0.8zM1222.30 126.51h0.8V152.26h-0.8zM1223.97 146.29h0.8V164.92h-0.8zM1227.32 148.94h0.8V156.07h-0.8zM1228.99 150.49h0.8V156.45h-0.8zM1234.01 141.05h0.8V151.26h-0.8zM1235.69 141.98h0.8V165.04h-0.8zM1237.36 155.38h0.8V168.36h-0.8zM1239.03 163.13h0.8V184.14h-0.8zM1240.71 177.08h0.8V189.49h-0.8zM1242.38 183.67h0.8V198.22h-0.8zM1244.05 190.59h0.8V211.26h-0.8zM1247.40 197.38h0.8V209.87h-0.8zM1249.07 201.80h0.8V241.26h-0.8zM1250.75 224.51h0.8V263.30h-0.8zM1252.42 231.12h0.8V241.78h-0.8zM1257.44 211.79h0.8V226.13h-0.8zM1262.46 203.49h0.8V211.47h-0.8zM1264.13 206.72h0.8V217.01h-0.8zM1265.81 214.31h0.8V231.10h-0.8zM1267.48 213.84h0.8V245.60h-0.8zM1272.50 200.86h0.8V210.53h-0.8zM1274.17 194.51h0.8V218.93h-0.8zM1275.85 212.01h0.8V224.91h-0.8zM1282.54 196.52h0.8V212.79h-0.8zM1284.21 197.64h0.8V210.20h-0.8zM1285.89 205.27h0.8V216.07h-0.8zM1287.56 208.73h0.8V216.96h-0.8zM1289.23 211.66h0.8V219.46h-0.8zM1290.91 209.17h0.8V230.37h-0.8zM1292.58 225.14h0.8V230.39h-0.8zM1294.25 225.19h0.8V233.56h-0.8zM1302.62 218.16h0.8V229.46h-0.8zM1305.97 222.85h0.8V229.29h-0.8zM1309.31 219.60h0.8V231.29h-0.8zM1312.66 220.80h0.8V227.43h-0.8zM1314.34 215.48h0.8V228.70h-0.8zM1317.68 223.43h0.8V235.06h-0.8zM1329.40 191.76h0.8V206.65h-0.8zM1331.07 193.79h0.8V213.72h-0.8zM1337.76 202.77h0.8V209.75h-0.8zM1342.78 181.76h0.8V190.03h-0.8zM1344.46 183.10h0.8V189.17h-0.8zM1346.13 179.64h0.8V194.78h-0.8zM1347.80 185.15h0.8V203.51h-0.8zM1349.48 188.68h0.8V205.43h-0.8zM1351.15 201.90h0.8V222.82h-0.8zM1354.50 207.18h0.8V226.55h-0.8zM1359.52 209.37h0.8V230.16h-0.8zM1366.21 213.83h0.8V232.55h-0.8zM1367.88 222.57h0.8V239.88h-0.8zM1369.56 235.94h0.8V275.47h-0.8zM1371.23 269.73h0.8V273.02h-0.8zM1372.90 267.48h0.8V285.81h-0.8zM1374.58 277.12h0.8V302.57h-0.8zM1376.25 295.24h0.8V318.00h-0.8zM1377.92 307.99h0.8V393.90h-0.8zM1382.94 314.86h0.8V324.17h-0.8zM1384.62 319.81h0.8V337.54h-0.8zM1386.29 328.74h0.8V337.88h-0.8zM1387.96 331.58h0.8V343.21h-0.8zM1389.64 333.43h0.8V347.00h-0.8zM1396.33 323.31h0.8V334.70h-0.8zM1398.01 322.14h0.8V356.98h-0.8zM1399.68 337.68h0.8V346.77h-0.8zM1403.03 336.51h0.8V349.08h-0.8zM1406.37 332.32h0.8V355.77h-0.8zM1408.05 342.36h0.8V374.64h-0.8zM1409.72 363.29h0.8V376.10h-0.8zM1414.74 341.33h0.8V357.78h-0.8zM1418.09 342.85h0.8V355.95h-0.8zM1423.11 304.39h0.8V322.66h-0.8z" fill="#f22c1e" opacity="0.62"/><path d="M-4.65 614.12h1.5V620.60h-1.5zM0.37 611.71h1.5V615.21h-1.5zM3.71 612.91h1.5V613.51h-1.5zM5.39 607.50h1.5V612.76h-1.5zM8.73 613.09h1.5V614.89h-1.5zM10.41 609.15h1.5V613.56h-1.5zM15.43 608.67h1.5V611.27h-1.5zM17.10 608.22h1.5V608.82h-1.5zM18.77 604.32h1.5V608.10h-1.5zM22.12 607.74h1.5V609.61h-1.5zM23.79 607.66h1.5V608.26h-1.5zM25.47 602.11h1.5V607.60h-1.5zM28.81 605.81h1.5V610.55h-1.5zM30.49 603.79h1.5V606.38h-1.5zM33.83 603.75h1.5V610.07h-1.5zM35.51 599.31h1.5V603.81h-1.5zM38.85 596.21h1.5V601.46h-1.5zM42.20 600.20h1.5V605.13h-1.5zM43.87 598.78h1.5V600.42h-1.5zM47.22 570.13h1.5V603.20h-1.5zM48.89 561.20h1.5V570.16h-1.5zM50.57 533.77h1.5V561.38h-1.5zM52.24 533.70h1.5V534.30h-1.5zM53.91 531.82h1.5V534.04h-1.5zM62.28 555.65h1.5V563.85h-1.5zM63.96 552.72h1.5V555.60h-1.5zM65.63 544.58h1.5V552.90h-1.5zM67.30 544.41h1.5V545.05h-1.5zM74.00 544.78h1.5V557.38h-1.5zM75.67 534.78h1.5V545.12h-1.5zM79.02 534.43h1.5V539.22h-1.5zM85.71 538.73h1.5V539.33h-1.5zM94.08 548.23h1.5V555.30h-1.5zM95.75 531.66h1.5V548.46h-1.5zM100.77 535.33h1.5V547.46h-1.5zM102.44 529.36h1.5V534.91h-1.5zM104.12 529.34h1.5V529.94h-1.5zM105.79 513.64h1.5V529.35h-1.5zM107.46 506.37h1.5V513.54h-1.5zM109.14 505.58h1.5V506.68h-1.5zM119.18 548.62h1.5V558.10h-1.5zM125.87 554.02h1.5V558.38h-1.5zM132.56 576.41h1.5V577.01h-1.5zM135.91 575.18h1.5V578.27h-1.5zM137.59 564.98h1.5V575.32h-1.5zM139.26 559.11h1.5V565.20h-1.5zM140.93 556.42h1.5V559.33h-1.5zM142.61 547.95h1.5V556.38h-1.5zM144.28 543.57h1.5V548.05h-1.5zM147.63 543.97h1.5V546.27h-1.5zM150.97 542.11h1.5V544.15h-1.5zM155.99 544.45h1.5V551.66h-1.5zM157.67 533.46h1.5V544.49h-1.5zM159.34 523.47h1.5V533.40h-1.5zM161.01 509.69h1.5V522.87h-1.5zM162.69 501.24h1.5V509.48h-1.5zM164.36 496.27h1.5V501.27h-1.5zM166.03 480.34h1.5V496.32h-1.5zM167.71 473.19h1.5V480.12h-1.5zM169.38 461.15h1.5V473.57h-1.5zM172.73 460.18h1.5V463.94h-1.5zM176.07 457.81h1.5V465.39h-1.5zM184.44 464.17h1.5V468.07h-1.5zM187.79 462.53h1.5V464.79h-1.5zM189.46 437.17h1.5V462.55h-1.5zM191.13 415.64h1.5V437.49h-1.5zM192.81 387.52h1.5V415.66h-1.5zM194.48 379.52h1.5V387.31h-1.5zM196.15 376.88h1.5V379.23h-1.5zM197.83 377.05h1.5V377.65h-1.5zM199.50 368.11h1.5V377.17h-1.5zM201.17 345.77h1.5V368.15h-1.5zM206.19 345.63h1.5V355.87h-1.5zM207.87 343.96h1.5V345.93h-1.5zM209.54 338.24h1.5V344.07h-1.5zM211.21 331.85h1.5V338.70h-1.5zM212.89 317.93h1.5V331.72h-1.5zM214.56 313.37h1.5V317.82h-1.5zM216.23 313.44h1.5V314.04h-1.5zM222.93 342.69h1.5V350.03h-1.5zM224.60 340.51h1.5V342.92h-1.5zM227.95 351.83h1.5V381.66h-1.5zM229.62 351.11h1.5V352.16h-1.5zM232.97 349.11h1.5V363.63h-1.5zM234.64 335.08h1.5V349.00h-1.5zM236.32 323.18h1.5V334.99h-1.5zM237.99 319.00h1.5V323.62h-1.5zM239.66 317.43h1.5V319.35h-1.5zM243.01 319.18h1.5V324.18h-1.5zM246.36 313.87h1.5V320.83h-1.5zM253.05 351.70h1.5V358.42h-1.5zM254.72 332.72h1.5V351.21h-1.5zM258.07 327.78h1.5V333.97h-1.5zM259.74 323.22h1.5V328.16h-1.5zM274.80 367.72h1.5V370.89h-1.5zM278.15 365.01h1.5V375.52h-1.5zM279.82 357.51h1.5V365.20h-1.5zM281.50 352.25h1.5V357.57h-1.5zM283.17 351.17h1.5V352.28h-1.5zM284.84 345.87h1.5V351.08h-1.5zM289.86 368.21h1.5V371.23h-1.5zM291.54 364.37h1.5V368.30h-1.5zM294.88 367.78h1.5V372.85h-1.5zM301.58 388.39h1.5V405.26h-1.5zM303.25 365.56h1.5V389.16h-1.5zM304.93 365.24h1.5V365.84h-1.5zM308.27 366.64h1.5V369.87h-1.5zM316.64 379.18h1.5V389.52h-1.5zM318.31 370.88h1.5V379.28h-1.5zM321.66 362.90h1.5V385.99h-1.5zM323.33 354.95h1.5V363.39h-1.5zM325.01 354.12h1.5V355.13h-1.5zM326.68 350.23h1.5V353.96h-1.5zM328.35 339.91h1.5V350.07h-1.5zM330.03 329.06h1.5V340.24h-1.5zM331.70 321.76h1.5V329.48h-1.5zM338.39 333.95h1.5V337.09h-1.5zM340.07 333.70h1.5V334.30h-1.5zM341.74 332.24h1.5V333.69h-1.5zM345.09 334.90h1.5V335.70h-1.5zM350.11 340.16h1.5V342.66h-1.5zM351.78 338.49h1.5V340.34h-1.5zM353.45 330.08h1.5V338.56h-1.5zM355.13 323.33h1.5V330.10h-1.5zM356.80 321.01h1.5V323.13h-1.5zM358.47 320.32h1.5V320.92h-1.5zM361.82 330.18h1.5V330.92h-1.5zM365.17 330.05h1.5V333.79h-1.5zM373.53 348.93h1.5V351.65h-1.5zM383.57 364.92h1.5V365.52h-1.5zM390.27 385.03h1.5V389.66h-1.5zM391.94 383.09h1.5V385.38h-1.5zM396.96 377.33h1.5V387.69h-1.5zM400.31 376.25h1.5V382.56h-1.5zM410.35 407.53h1.5V416.25h-1.5zM415.37 413.50h1.5V420.14h-1.5zM417.04 413.19h1.5V413.79h-1.5zM418.72 408.30h1.5V413.39h-1.5zM420.39 404.17h1.5V408.01h-1.5zM422.06 390.31h1.5V404.12h-1.5zM423.74 375.85h1.5V390.44h-1.5zM425.41 361.85h1.5V375.95h-1.5zM428.76 363.20h1.5V364.57h-1.5zM430.43 353.63h1.5V363.23h-1.5zM432.10 339.64h1.5V353.91h-1.5zM440.47 351.98h1.5V353.95h-1.5zM442.14 343.80h1.5V352.17h-1.5zM443.82 343.66h1.5V344.26h-1.5zM445.49 339.72h1.5V343.12h-1.5zM460.55 427.00h1.5V442.30h-1.5zM463.90 421.25h1.5V427.38h-1.5zM465.57 381.19h1.5V421.35h-1.5zM472.26 394.23h1.5V402.55h-1.5zM473.94 391.98h1.5V393.89h-1.5zM478.96 403.34h1.5V404.96h-1.5zM480.63 403.15h1.5V403.75h-1.5zM483.98 392.90h1.5V403.56h-1.5zM485.65 389.67h1.5V392.91h-1.5zM489.00 384.65h1.5V392.06h-1.5zM490.67 365.85h1.5V384.53h-1.5zM499.04 396.55h1.5V398.07h-1.5zM504.06 402.70h1.5V403.45h-1.5zM509.08 406.48h1.5V408.29h-1.5zM514.10 441.00h1.5V443.20h-1.5zM515.77 436.00h1.5V440.91h-1.5zM517.45 419.35h1.5V436.21h-1.5zM519.12 411.08h1.5V418.92h-1.5zM524.14 400.17h1.5V417.72h-1.5zM525.81 389.49h1.5V399.96h-1.5zM532.51 383.38h1.5V403.16h-1.5zM534.18 373.03h1.5V383.16h-1.5zM537.53 372.88h1.5V373.48h-1.5zM539.20 367.70h1.5V373.02h-1.5zM542.55 371.12h1.5V373.88h-1.5zM544.22 364.16h1.5V371.33h-1.5zM545.89 359.09h1.5V364.12h-1.5zM547.57 355.44h1.5V360.14h-1.5zM549.24 352.82h1.5V355.71h-1.5zM557.61 382.75h1.5V390.98h-1.5zM559.28 381.88h1.5V382.57h-1.5zM560.96 377.66h1.5V381.78h-1.5zM564.30 373.02h1.5V382.07h-1.5zM569.32 381.24h1.5V386.47h-1.5zM571.00 376.35h1.5V381.13h-1.5zM574.34 372.79h1.5V377.06h-1.5zM576.02 366.52h1.5V372.92h-1.5zM577.69 346.42h1.5V366.44h-1.5zM581.04 347.98h1.5V350.32h-1.5zM582.71 338.51h1.5V347.99h-1.5zM584.38 330.96h1.5V339.27h-1.5zM589.40 335.45h1.5V336.13h-1.5zM592.75 345.44h1.5V346.04h-1.5zM597.77 342.23h1.5V347.50h-1.5zM599.44 325.59h1.5V342.02h-1.5zM601.12 317.29h1.5V325.34h-1.5zM602.79 309.80h1.5V317.57h-1.5zM611.16 328.53h1.5V332.45h-1.5zM614.50 305.47h1.5V333.04h-1.5zM616.18 291.67h1.5V305.06h-1.5zM617.85 291.50h1.5V292.37h-1.5zM619.52 279.44h1.5V291.02h-1.5zM621.20 250.11h1.5V279.12h-1.5zM622.87 217.69h1.5V250.06h-1.5zM626.22 216.95h1.5V226.49h-1.5zM629.56 221.54h1.5V223.57h-1.5zM631.24 210.20h1.5V221.46h-1.5zM634.58 206.41h1.5V212.73h-1.5zM636.26 195.57h1.5V206.91h-1.5zM637.93 189.11h1.5V195.05h-1.5zM639.61 182.59h1.5V188.60h-1.5zM641.28 172.04h1.5V182.78h-1.5zM649.65 193.75h1.5V203.17h-1.5zM651.32 184.06h1.5V193.80h-1.5zM652.99 177.02h1.5V183.94h-1.5zM656.34 182.70h1.5V183.93h-1.5zM661.36 178.24h1.5V185.89h-1.5zM666.38 165.73h1.5V178.10h-1.5zM673.07 172.13h1.5V172.75h-1.5zM674.75 162.03h1.5V171.74h-1.5zM678.09 157.64h1.5V163.43h-1.5zM679.77 154.18h1.5V157.70h-1.5zM681.44 145.98h1.5V154.09h-1.5zM683.11 138.31h1.5V145.59h-1.5zM689.81 178.27h1.5V180.21h-1.5zM694.83 180.67h1.5V186.31h-1.5zM696.50 179.64h1.5V180.70h-1.5zM698.17 169.67h1.5V179.88h-1.5zM706.54 189.22h1.5V195.16h-1.5zM708.21 187.03h1.5V189.27h-1.5zM709.89 181.81h1.5V186.54h-1.5zM711.56 178.26h1.5V182.06h-1.5zM713.23 172.76h1.5V178.43h-1.5zM716.58 166.79h1.5V176.09h-1.5zM718.25 163.76h1.5V167.24h-1.5zM724.95 194.03h1.5V195.72h-1.5zM726.62 192.26h1.5V194.31h-1.5zM728.30 187.70h1.5V192.17h-1.5zM729.97 180.93h1.5V187.87h-1.5zM731.64 176.49h1.5V181.39h-1.5zM733.32 172.66h1.5V176.55h-1.5zM734.99 159.21h1.5V172.58h-1.5zM736.66 152.20h1.5V158.80h-1.5zM738.34 140.32h1.5V151.95h-1.5zM741.68 147.68h1.5V150.72h-1.5zM743.36 146.89h1.5V147.49h-1.5zM745.03 144.46h1.5V146.87h-1.5zM748.38 145.49h1.5V148.41h-1.5zM755.07 155.70h1.5V156.40h-1.5zM756.74 155.34h1.5V155.94h-1.5zM758.42 143.42h1.5V155.84h-1.5zM765.11 163.48h1.5V173.04h-1.5zM773.48 182.29h1.5V185.73h-1.5zM775.15 178.01h1.5V182.50h-1.5zM778.50 177.82h1.5V178.53h-1.5zM781.84 181.49h1.5V183.23h-1.5zM783.52 178.78h1.5V181.19h-1.5zM786.86 180.56h1.5V183.02h-1.5zM790.21 186.10h1.5V186.88h-1.5zM791.88 175.05h1.5V185.99h-1.5zM803.60 241.68h1.5V244.93h-1.5zM805.27 238.61h1.5V241.46h-1.5zM806.95 234.35h1.5V238.93h-1.5zM808.62 193.50h1.5V234.15h-1.5zM813.64 212.50h1.5V229.53h-1.5zM818.66 230.89h1.5V231.49h-1.5zM823.68 260.55h1.5V270.06h-1.5zM825.35 248.43h1.5V260.53h-1.5zM827.03 247.04h1.5V248.50h-1.5zM830.37 250.77h1.5V256.53h-1.5zM832.05 244.60h1.5V250.33h-1.5zM835.39 246.60h1.5V252.08h-1.5zM837.07 231.70h1.5V247.03h-1.5zM840.41 241.08h1.5V241.68h-1.5zM843.76 239.91h1.5V245.08h-1.5zM845.43 227.38h1.5V239.69h-1.5zM847.11 222.71h1.5V227.55h-1.5zM848.78 222.23h1.5V222.83h-1.5zM855.47 250.82h1.5V253.87h-1.5zM857.15 244.59h1.5V251.14h-1.5zM858.82 237.74h1.5V244.13h-1.5zM863.84 242.19h1.5V248.66h-1.5zM872.21 274.43h1.5V287.65h-1.5zM873.88 255.95h1.5V274.25h-1.5zM875.55 245.30h1.5V256.32h-1.5zM877.23 241.24h1.5V245.74h-1.5zM878.90 239.80h1.5V241.48h-1.5zM883.92 241.39h1.5V245.63h-1.5zM885.59 237.16h1.5V241.38h-1.5zM888.94 236.73h1.5V240.63h-1.5zM892.29 228.10h1.5V242.90h-1.5zM893.96 204.18h1.5V227.73h-1.5zM895.64 197.36h1.5V203.78h-1.5zM897.31 191.06h1.5V197.61h-1.5zM898.98 190.86h1.5V191.46h-1.5zM902.33 187.92h1.5V193.95h-1.5zM904.00 185.61h1.5V188.09h-1.5zM907.35 189.64h1.5V192.43h-1.5zM909.02 183.39h1.5V189.59h-1.5zM910.70 183.07h1.5V183.67h-1.5zM915.72 190.28h1.5V194.74h-1.5zM917.39 185.80h1.5V190.07h-1.5zM919.06 178.92h1.5V186.25h-1.5zM920.74 171.11h1.5V179.43h-1.5zM922.41 153.86h1.5V171.62h-1.5zM924.08 150.44h1.5V153.95h-1.5zM925.76 145.57h1.5V150.10h-1.5zM932.45 149.17h1.5V154.36h-1.5zM935.80 143.51h1.5V151.61h-1.5zM939.14 140.38h1.5V146.65h-1.5zM940.82 134.78h1.5V140.62h-1.5zM942.49 126.84h1.5V134.87h-1.5zM944.16 123.08h1.5V127.35h-1.5zM947.51 130.84h1.5V134.06h-1.5zM950.86 126.98h1.5V131.15h-1.5zM954.20 129.93h1.5V131.63h-1.5zM959.22 148.41h1.5V149.16h-1.5zM960.90 143.19h1.5V148.61h-1.5zM962.57 140.17h1.5V142.89h-1.5zM969.26 155.88h1.5V158.13h-1.5zM970.94 149.25h1.5V156.16h-1.5zM972.61 143.21h1.5V149.39h-1.5zM974.28 124.43h1.5V143.21h-1.5zM984.33 138.73h1.5V144.65h-1.5zM987.67 143.58h1.5V144.18h-1.5zM996.04 154.90h1.5V163.09h-1.5zM997.71 142.36h1.5V154.71h-1.5zM999.39 134.04h1.5V141.93h-1.5zM1001.06 129.77h1.5V133.98h-1.5zM1002.73 130.01h1.5V130.61h-1.5zM1006.08 131.13h1.5V136.15h-1.5zM1011.10 134.30h1.5V139.27h-1.5zM1012.77 133.05h1.5V133.94h-1.5zM1014.45 128.14h1.5V133.37h-1.5zM1017.79 129.16h1.5V131.50h-1.5zM1021.14 126.72h1.5V133.25h-1.5zM1024.49 114.32h1.5V129.26h-1.5zM1026.16 103.17h1.5V114.16h-1.5zM1027.83 95.27h1.5V102.97h-1.5zM1029.51 91.48h1.5V94.85h-1.5zM1031.18 89.11h1.5V91.49h-1.5zM1036.20 89.32h1.5V92.24h-1.5zM1039.55 95.33h1.5V96.62h-1.5zM1041.22 91.12h1.5V95.42h-1.5zM1044.57 88.16h1.5V95.85h-1.5zM1047.91 91.75h1.5V95.10h-1.5zM1052.93 89.73h1.5V96.69h-1.5zM1056.28 88.63h1.5V91.55h-1.5zM1064.65 113.13h1.5V115.62h-1.5zM1066.32 112.51h1.5V113.25h-1.5zM1068.00 102.14h1.5V112.28h-1.5zM1071.34 102.01h1.5V102.63h-1.5zM1073.02 101.56h1.5V102.51h-1.5zM1074.69 95.93h1.5V101.36h-1.5zM1076.36 90.73h1.5V95.55h-1.5zM1078.04 89.21h1.5V90.97h-1.5zM1079.71 85.37h1.5V88.82h-1.5zM1081.38 81.41h1.5V85.47h-1.5zM1083.06 79.05h1.5V81.24h-1.5zM1089.75 97.03h1.5V100.37h-1.5zM1096.44 100.07h1.5V115.07h-1.5zM1098.12 97.29h1.5V100.10h-1.5zM1104.81 119.27h1.5V120.43h-1.5zM1106.48 115.43h1.5V118.92h-1.5zM1113.18 125.29h1.5V128.02h-1.5zM1114.85 121.36h1.5V125.49h-1.5zM1116.52 121.05h1.5V121.65h-1.5zM1118.20 118.37h1.5V121.69h-1.5zM1123.22 117.33h1.5V119.80h-1.5zM1126.56 114.98h1.5V121.11h-1.5zM1128.24 114.40h1.5V115.00h-1.5zM1129.91 110.57h1.5V114.39h-1.5zM1131.58 102.35h1.5V110.80h-1.5zM1133.26 97.39h1.5V102.42h-1.5zM1136.60 102.38h1.5V104.48h-1.5zM1138.28 98.50h1.5V102.28h-1.5zM1139.95 95.79h1.5V98.01h-1.5zM1143.30 99.56h1.5V100.16h-1.5zM1146.65 99.25h1.5V102.57h-1.5zM1153.34 113.40h1.5V115.62h-1.5zM1156.69 123.72h1.5V124.95h-1.5zM1160.03 112.52h1.5V123.73h-1.5zM1163.38 103.45h1.5V112.54h-1.5zM1165.05 92.50h1.5V103.14h-1.5zM1166.73 87.79h1.5V92.15h-1.5zM1168.40 84.50h1.5V87.58h-1.5zM1170.07 71.53h1.5V84.68h-1.5zM1173.42 72.82h1.5V75.12h-1.5zM1185.13 110.63h1.5V114.64h-1.5zM1195.17 132.52h1.5V133.12h-1.5zM1196.85 132.66h1.5V133.26h-1.5zM1198.52 120.31h1.5V132.42h-1.5zM1201.87 119.40h1.5V126.25h-1.5zM1205.21 118.31h1.5V121.00h-1.5zM1206.89 105.97h1.5V117.98h-1.5zM1208.56 104.98h1.5V105.79h-1.5zM1216.93 119.00h1.5V123.37h-1.5zM1225.30 151.27h1.5V160.31h-1.5zM1230.32 148.47h1.5V155.10h-1.5zM1231.99 144.89h1.5V148.44h-1.5zM1245.38 199.77h1.5V204.57h-1.5zM1253.74 226.32h1.5V238.11h-1.5zM1255.42 220.52h1.5V226.61h-1.5zM1258.76 210.26h1.5V221.15h-1.5zM1260.44 208.84h1.5V209.98h-1.5zM1268.80 210.40h1.5V223.18h-1.5zM1270.48 201.89h1.5V210.24h-1.5zM1277.17 211.40h1.5V220.63h-1.5zM1278.84 203.95h1.5V211.87h-1.5zM1280.52 199.68h1.5V204.21h-1.5zM1295.58 228.10h1.5V229.84h-1.5zM1297.25 225.36h1.5V228.06h-1.5zM1298.92 222.20h1.5V225.06h-1.5zM1300.60 219.41h1.5V222.52h-1.5zM1303.94 223.92h1.5V226.42h-1.5zM1307.29 222.82h1.5V224.75h-1.5zM1310.64 222.60h1.5V225.79h-1.5zM1315.66 225.68h1.5V227.90h-1.5zM1319.01 222.03h1.5V226.66h-1.5zM1320.68 215.02h1.5V221.91h-1.5zM1322.35 210.21h1.5V215.01h-1.5zM1324.03 203.72h1.5V210.35h-1.5zM1325.70 199.99h1.5V203.63h-1.5zM1327.37 198.07h1.5V199.39h-1.5zM1332.39 209.93h1.5V210.53h-1.5zM1334.07 209.25h1.5V210.28h-1.5zM1335.74 204.65h1.5V208.72h-1.5zM1339.09 189.63h1.5V205.44h-1.5zM1340.76 183.03h1.5V190.07h-1.5zM1352.47 216.39h1.5V220.33h-1.5zM1355.82 216.85h1.5V218.45h-1.5zM1357.49 216.44h1.5V217.04h-1.5zM1360.84 224.71h1.5V227.91h-1.5zM1362.51 221.55h1.5V224.71h-1.5zM1364.19 218.09h1.5V221.46h-1.5zM1379.25 323.00h1.5V373.98h-1.5zM1380.92 318.94h1.5V322.77h-1.5zM1390.96 337.80h1.5V345.14h-1.5zM1392.63 332.78h1.5V337.19h-1.5zM1394.31 325.23h1.5V332.60h-1.5zM1401.00 341.82h1.5V345.66h-1.5zM1404.35 336.43h1.5V341.80h-1.5zM1411.04 347.67h1.5V368.25h-1.5zM1412.72 343.36h1.5V348.03h-1.5zM1416.06 347.75h1.5V350.47h-1.5zM1419.41 345.61h1.5V352.44h-1.5zM1421.08 309.50h1.5V345.64h-1.5z" fill="#22992e"/><path d="M-6.33 620.64h1.5V621.24h-1.5zM-2.98 614.32h1.5V615.01h-1.5zM-1.31 615.07h1.5V615.67h-1.5zM2.04 611.70h1.5V613.42h-1.5zM7.06 607.25h1.5V614.76h-1.5zM12.08 608.63h1.5V609.92h-1.5zM13.75 609.72h1.5V611.31h-1.5zM20.45 604.28h1.5V609.44h-1.5zM27.14 602.09h1.5V610.50h-1.5zM32.16 603.58h1.5V610.06h-1.5zM37.18 599.09h1.5V601.74h-1.5zM40.53 596.22h1.5V604.80h-1.5zM45.55 598.26h1.5V603.36h-1.5zM55.59 532.03h1.5V537.57h-1.5zM57.26 537.77h1.5V539.29h-1.5zM58.94 539.28h1.5V540.46h-1.5zM60.61 540.55h1.5V563.53h-1.5zM68.98 544.35h1.5V550.42h-1.5zM70.65 550.93h1.5V556.70h-1.5zM72.32 556.87h1.5V557.58h-1.5zM77.34 535.24h1.5V539.09h-1.5zM80.69 534.40h1.5V535.91h-1.5zM82.36 535.80h1.5V539.68h-1.5zM84.04 539.10h1.5V539.70h-1.5zM87.38 538.61h1.5V540.31h-1.5zM89.06 540.20h1.5V549.92h-1.5zM90.73 550.19h1.5V550.95h-1.5zM92.40 551.03h1.5V555.11h-1.5zM97.42 531.26h1.5V532.76h-1.5zM99.10 532.31h1.5V547.84h-1.5zM110.81 505.74h1.5V513.97h-1.5zM112.48 514.36h1.5V519.37h-1.5zM114.16 519.24h1.5V543.05h-1.5zM115.83 543.40h1.5V555.93h-1.5zM117.50 556.14h1.5V558.45h-1.5zM120.85 548.33h1.5V548.93h-1.5zM122.52 548.23h1.5V552.43h-1.5zM124.20 552.72h1.5V558.20h-1.5zM127.54 554.53h1.5V560.83h-1.5zM129.22 561.28h1.5V561.88h-1.5zM130.89 560.80h1.5V576.58h-1.5zM134.24 576.37h1.5V577.96h-1.5zM145.95 543.64h1.5V545.60h-1.5zM149.30 543.60h1.5V544.20h-1.5zM152.65 542.49h1.5V545.24h-1.5zM154.32 544.95h1.5V551.52h-1.5zM171.05 460.79h1.5V463.39h-1.5zM174.40 460.31h1.5V464.73h-1.5zM177.75 458.16h1.5V458.76h-1.5zM179.42 458.42h1.5V460.84h-1.5zM181.09 460.91h1.5V465.47h-1.5zM182.77 465.17h1.5V468.13h-1.5zM186.11 463.84h1.5V464.78h-1.5zM202.85 346.03h1.5V353.04h-1.5zM204.52 352.88h1.5V355.76h-1.5zM217.91 313.37h1.5V313.97h-1.5zM219.58 313.95h1.5V331.02h-1.5zM221.25 331.19h1.5V349.79h-1.5zM226.28 340.69h1.5V381.64h-1.5zM231.30 351.46h1.5V364.15h-1.5zM241.34 318.05h1.5V323.97h-1.5zM244.68 319.08h1.5V320.61h-1.5zM248.03 314.05h1.5V335.87h-1.5zM249.70 335.79h1.5V355.91h-1.5zM251.38 356.35h1.5V358.68h-1.5zM256.40 333.14h1.5V334.19h-1.5zM261.42 323.71h1.5V324.56h-1.5zM263.09 324.28h1.5V325.63h-1.5zM264.76 325.82h1.5V329.80h-1.5zM266.44 330.11h1.5V332.12h-1.5zM268.11 332.01h1.5V349.36h-1.5zM269.78 349.20h1.5V362.32h-1.5zM271.46 362.32h1.5V367.29h-1.5zM273.13 367.07h1.5V371.25h-1.5zM276.48 367.73h1.5V375.13h-1.5zM286.52 345.68h1.5V356.27h-1.5zM288.19 356.19h1.5V371.00h-1.5zM293.21 364.09h1.5V372.65h-1.5zM296.56 367.61h1.5V384.39h-1.5zM298.23 384.48h1.5V404.11h-1.5zM299.90 403.83h1.5V405.01h-1.5zM306.60 365.17h1.5V369.45h-1.5zM309.95 366.65h1.5V378.91h-1.5zM311.62 379.27h1.5V383.74h-1.5zM313.29 383.86h1.5V386.11h-1.5zM314.97 386.88h1.5V389.57h-1.5zM319.99 370.07h1.5V385.75h-1.5zM333.37 322.45h1.5V327.98h-1.5zM335.05 327.72h1.5V334.08h-1.5zM336.72 334.39h1.5V336.99h-1.5zM343.41 332.19h1.5V335.93h-1.5zM346.76 334.81h1.5V338.87h-1.5zM348.43 338.67h1.5V342.66h-1.5zM360.15 320.35h1.5V330.89h-1.5zM363.49 330.13h1.5V333.87h-1.5zM366.84 330.41h1.5V335.73h-1.5zM368.51 336.15h1.5V339.63h-1.5zM370.19 339.36h1.5V347.63h-1.5zM371.86 347.82h1.5V351.77h-1.5zM375.21 348.54h1.5V350.86h-1.5zM376.88 350.75h1.5V355.77h-1.5zM378.55 355.84h1.5V356.75h-1.5zM380.23 356.93h1.5V359.00h-1.5zM381.90 358.96h1.5V365.13h-1.5zM385.25 364.76h1.5V369.11h-1.5zM386.92 369.08h1.5V381.73h-1.5zM388.60 382.37h1.5V389.21h-1.5zM393.62 382.98h1.5V385.53h-1.5zM395.29 385.31h1.5V387.71h-1.5zM398.64 376.97h1.5V381.44h-1.5zM401.98 376.23h1.5V382.51h-1.5zM403.66 382.16h1.5V383.49h-1.5zM405.33 383.74h1.5V398.75h-1.5zM407.00 398.93h1.5V407.87h-1.5zM408.68 407.98h1.5V416.17h-1.5zM412.02 407.52h1.5V418.15h-1.5zM413.70 418.33h1.5V420.07h-1.5zM427.08 361.73h1.5V364.34h-1.5zM433.78 339.92h1.5V343.61h-1.5zM435.45 343.37h1.5V349.99h-1.5zM437.12 349.77h1.5V352.67h-1.5zM438.80 352.45h1.5V354.56h-1.5zM447.16 339.70h1.5V344.47h-1.5zM448.84 344.54h1.5V350.34h-1.5zM450.51 349.93h1.5V352.76h-1.5zM452.18 353.06h1.5V363.67h-1.5zM453.86 363.53h1.5V377.98h-1.5zM455.53 378.02h1.5V383.31h-1.5zM457.20 383.76h1.5V397.99h-1.5zM458.88 397.98h1.5V442.00h-1.5zM462.22 427.29h1.5V427.89h-1.5zM467.24 380.63h1.5V388.87h-1.5zM468.92 389.17h1.5V397.72h-1.5zM470.59 397.82h1.5V402.70h-1.5zM475.61 391.68h1.5V402.02h-1.5zM477.29 401.83h1.5V404.91h-1.5zM482.31 403.24h1.5V403.84h-1.5zM487.33 389.48h1.5V392.05h-1.5zM492.35 365.25h1.5V368.86h-1.5zM494.02 368.81h1.5V373.02h-1.5zM495.69 372.73h1.5V392.69h-1.5zM497.37 392.30h1.5V397.98h-1.5zM500.71 396.52h1.5V401.72h-1.5zM502.39 401.98h1.5V403.61h-1.5zM505.73 402.81h1.5V405.57h-1.5zM507.41 405.34h1.5V407.99h-1.5zM510.75 406.25h1.5V416.59h-1.5zM512.43 417.14h1.5V443.00h-1.5zM520.79 411.32h1.5V411.92h-1.5zM522.47 411.49h1.5V417.69h-1.5zM527.49 389.97h1.5V395.83h-1.5zM529.16 395.73h1.5V402.43h-1.5zM530.83 402.17h1.5V403.28h-1.5zM535.85 372.65h1.5V373.25h-1.5zM540.87 367.78h1.5V373.90h-1.5zM550.91 352.30h1.5V354.71h-1.5zM552.59 354.46h1.5V369.43h-1.5zM554.26 369.74h1.5V377.06h-1.5zM555.93 377.31h1.5V391.22h-1.5zM562.63 377.54h1.5V381.36h-1.5zM565.98 372.44h1.5V374.89h-1.5zM567.65 375.27h1.5V387.08h-1.5zM572.67 376.26h1.5V377.51h-1.5zM579.36 345.91h1.5V350.80h-1.5zM586.06 331.12h1.5V335.77h-1.5zM587.73 336.01h1.5V336.61h-1.5zM591.08 335.80h1.5V346.21h-1.5zM594.42 345.19h1.5V345.79h-1.5zM596.10 344.93h1.5V347.87h-1.5zM604.46 309.73h1.5V317.58h-1.5zM606.14 317.46h1.5V327.50h-1.5zM607.81 327.24h1.5V332.09h-1.5zM609.48 331.89h1.5V332.49h-1.5zM612.83 328.49h1.5V332.98h-1.5zM624.54 217.64h1.5V226.97h-1.5zM627.89 216.64h1.5V223.15h-1.5zM632.91 210.35h1.5V212.82h-1.5zM642.95 172.12h1.5V175.33h-1.5zM644.63 175.11h1.5V182.52h-1.5zM646.30 182.99h1.5V198.04h-1.5zM647.97 198.03h1.5V203.15h-1.5zM654.67 176.65h1.5V183.64h-1.5zM658.01 182.38h1.5V185.63h-1.5zM659.69 185.46h1.5V186.06h-1.5zM663.03 178.26h1.5V178.86h-1.5zM664.71 178.14h1.5V178.74h-1.5zM668.05 166.39h1.5V167.61h-1.5zM669.73 167.79h1.5V170.27h-1.5zM671.40 170.18h1.5V172.22h-1.5zM676.42 162.18h1.5V164.07h-1.5zM684.79 138.40h1.5V150.53h-1.5zM686.46 150.84h1.5V169.43h-1.5zM688.13 169.81h1.5V180.01h-1.5zM691.48 178.66h1.5V180.24h-1.5zM693.15 180.98h1.5V186.52h-1.5zM699.85 169.68h1.5V184.41h-1.5zM701.52 184.16h1.5V187.48h-1.5zM703.19 187.47h1.5V189.77h-1.5zM704.87 190.00h1.5V195.24h-1.5zM714.91 172.70h1.5V175.65h-1.5zM719.93 163.99h1.5V178.70h-1.5zM721.60 179.00h1.5V185.75h-1.5zM723.27 185.77h1.5V196.32h-1.5zM740.01 140.41h1.5V150.23h-1.5zM746.70 144.46h1.5V148.41h-1.5zM750.05 145.80h1.5V151.30h-1.5zM751.72 151.23h1.5V154.14h-1.5zM753.40 154.44h1.5V157.02h-1.5zM760.09 143.35h1.5V157.08h-1.5zM761.76 157.46h1.5V168.45h-1.5zM763.44 168.13h1.5V172.83h-1.5zM766.78 163.90h1.5V167.69h-1.5zM768.46 167.94h1.5V177.82h-1.5zM770.13 177.90h1.5V184.16h-1.5zM771.80 184.40h1.5V185.51h-1.5zM776.82 177.81h1.5V178.94h-1.5zM780.17 177.35h1.5V183.37h-1.5zM785.19 178.93h1.5V182.72h-1.5zM788.54 180.56h1.5V186.76h-1.5zM793.56 174.80h1.5V177.85h-1.5zM795.23 177.25h1.5V178.92h-1.5zM796.90 179.39h1.5V199.10h-1.5zM798.58 199.45h1.5V212.08h-1.5zM800.25 211.99h1.5V218.94h-1.5zM801.92 218.69h1.5V244.90h-1.5zM810.29 193.44h1.5V214.00h-1.5zM811.97 214.30h1.5V229.60h-1.5zM815.31 212.45h1.5V218.27h-1.5zM816.99 218.71h1.5V231.09h-1.5zM820.33 231.16h1.5V239.54h-1.5zM822.01 240.02h1.5V270.16h-1.5zM828.70 247.06h1.5V256.17h-1.5zM833.72 244.44h1.5V252.01h-1.5zM838.74 231.49h1.5V241.50h-1.5zM842.09 241.22h1.5V244.87h-1.5zM850.45 222.59h1.5V224.74h-1.5zM852.13 224.82h1.5V232.25h-1.5zM853.80 232.15h1.5V253.77h-1.5zM860.49 237.98h1.5V246.19h-1.5zM862.17 246.56h1.5V248.78h-1.5zM865.51 242.12h1.5V252.71h-1.5zM867.19 253.01h1.5V260.11h-1.5zM868.86 260.56h1.5V276.01h-1.5zM870.53 276.15h1.5V288.02h-1.5zM880.57 239.68h1.5V245.33h-1.5zM882.25 245.20h1.5V245.80h-1.5zM887.27 237.26h1.5V241.03h-1.5zM890.62 237.30h1.5V242.75h-1.5zM900.66 190.31h1.5V193.71h-1.5zM905.68 185.56h1.5V192.72h-1.5zM912.37 183.19h1.5V185.97h-1.5zM914.04 186.21h1.5V194.46h-1.5zM927.43 145.03h1.5V146.75h-1.5zM929.10 146.87h1.5V151.06h-1.5zM930.78 151.35h1.5V154.03h-1.5zM934.12 149.17h1.5V151.56h-1.5zM937.47 143.78h1.5V146.32h-1.5zM945.84 123.10h1.5V133.33h-1.5zM949.18 130.83h1.5V131.43h-1.5zM952.53 127.06h1.5V131.50h-1.5zM955.88 130.03h1.5V137.08h-1.5zM957.55 137.35h1.5V149.38h-1.5zM964.24 140.74h1.5V142.95h-1.5zM965.92 143.03h1.5V143.96h-1.5zM967.59 143.76h1.5V158.46h-1.5zM975.96 124.30h1.5V127.41h-1.5zM977.63 127.03h1.5V132.29h-1.5zM979.31 132.06h1.5V136.76h-1.5zM980.98 136.82h1.5V141.85h-1.5zM982.65 142.06h1.5V144.94h-1.5zM986.00 139.25h1.5V143.69h-1.5zM989.35 143.42h1.5V145.48h-1.5zM991.02 145.70h1.5V152.62h-1.5zM992.69 152.51h1.5V155.33h-1.5zM994.37 155.40h1.5V163.06h-1.5zM1004.41 129.80h1.5V136.30h-1.5zM1007.75 131.90h1.5V135.90h-1.5zM1009.43 135.93h1.5V139.34h-1.5zM1016.12 127.72h1.5V131.27h-1.5zM1019.47 128.58h1.5V132.69h-1.5zM1022.81 126.43h1.5V129.43h-1.5zM1032.85 89.34h1.5V89.94h-1.5zM1034.53 89.73h1.5V92.80h-1.5zM1037.87 89.24h1.5V96.44h-1.5zM1042.89 91.41h1.5V95.97h-1.5zM1046.24 88.04h1.5V94.77h-1.5zM1049.59 91.46h1.5V93.87h-1.5zM1051.26 94.01h1.5V96.83h-1.5zM1054.61 89.77h1.5V91.68h-1.5zM1057.95 88.65h1.5V93.31h-1.5zM1059.63 93.72h1.5V94.36h-1.5zM1061.30 94.01h1.5V103.43h-1.5zM1062.98 103.18h1.5V115.26h-1.5zM1069.67 102.39h1.5V102.99h-1.5zM1084.73 79.00h1.5V85.46h-1.5zM1086.40 85.46h1.5V93.91h-1.5zM1088.08 93.73h1.5V99.59h-1.5zM1091.42 97.14h1.5V104.09h-1.5zM1093.10 103.90h1.5V108.30h-1.5zM1094.77 108.38h1.5V115.48h-1.5zM1099.79 97.46h1.5V104.21h-1.5zM1101.46 104.03h1.5V118.39h-1.5zM1103.14 118.07h1.5V120.99h-1.5zM1108.16 115.43h1.5V119.30h-1.5zM1109.83 119.63h1.5V126.97h-1.5zM1111.50 127.36h1.5V128.06h-1.5zM1119.87 117.60h1.5V118.20h-1.5zM1121.54 117.85h1.5V119.16h-1.5zM1124.89 117.43h1.5V120.75h-1.5zM1134.93 97.26h1.5V104.71h-1.5zM1141.62 96.58h1.5V100.11h-1.5zM1144.97 99.58h1.5V102.61h-1.5zM1148.32 98.74h1.5V101.97h-1.5zM1149.99 102.05h1.5V109.23h-1.5zM1151.67 109.00h1.5V116.01h-1.5zM1155.01 112.79h1.5V124.74h-1.5zM1158.36 123.87h1.5V124.47h-1.5zM1161.71 111.79h1.5V112.44h-1.5zM1171.75 71.16h1.5V75.32h-1.5zM1175.09 72.81h1.5V75.45h-1.5zM1176.77 75.69h1.5V81.43h-1.5zM1178.44 81.04h1.5V83.31h-1.5zM1180.11 83.69h1.5V106.48h-1.5zM1181.79 106.56h1.5V112.27h-1.5zM1183.46 112.17h1.5V114.81h-1.5zM1186.81 110.65h1.5V113.67h-1.5zM1188.48 113.38h1.5V113.98h-1.5zM1190.15 114.21h1.5V121.11h-1.5zM1191.83 120.73h1.5V127.96h-1.5zM1193.50 127.83h1.5V132.79h-1.5zM1200.19 120.30h1.5V125.81h-1.5zM1203.54 119.43h1.5V121.18h-1.5zM1210.23 105.16h1.5V113.18h-1.5zM1211.91 113.08h1.5V118.20h-1.5zM1213.58 117.68h1.5V122.11h-1.5zM1215.25 121.54h1.5V123.57h-1.5zM1218.60 119.00h1.5V127.07h-1.5zM1220.27 126.80h1.5V129.51h-1.5zM1221.95 129.43h1.5V151.37h-1.5zM1223.62 151.27h1.5V160.56h-1.5zM1226.97 151.34h1.5V152.49h-1.5zM1228.64 152.00h1.5V155.25h-1.5zM1233.66 144.88h1.5V146.79h-1.5zM1235.34 146.68h1.5V161.31h-1.5zM1237.01 161.41h1.5V165.66h-1.5zM1238.68 165.80h1.5V179.73h-1.5zM1240.36 179.75h1.5V187.67h-1.5zM1242.03 188.25h1.5V193.94h-1.5zM1243.70 193.65h1.5V204.90h-1.5zM1247.05 199.52h1.5V204.36h-1.5zM1248.72 204.64h1.5V228.85h-1.5zM1250.40 228.42h1.5V235.37h-1.5zM1252.07 235.04h1.5V238.41h-1.5zM1257.09 219.81h1.5V221.33h-1.5zM1262.11 208.76h1.5V209.52h-1.5zM1263.78 209.54h1.5V215.34h-1.5zM1265.46 215.14h1.5V219.67h-1.5zM1267.13 219.74h1.5V223.47h-1.5zM1272.15 201.70h1.5V203.49h-1.5zM1273.82 203.33h1.5V216.62h-1.5zM1275.50 216.71h1.5V220.32h-1.5zM1282.19 199.69h1.5V203.91h-1.5zM1283.86 203.88h1.5V206.88h-1.5zM1285.54 207.03h1.5V212.35h-1.5zM1287.21 212.56h1.5V215.19h-1.5zM1288.88 215.27h1.5V215.96h-1.5zM1290.56 215.86h1.5V228.25h-1.5zM1292.23 228.22h1.5V229.28h-1.5zM1293.90 229.31h1.5V230.09h-1.5zM1302.27 219.19h1.5V226.73h-1.5zM1305.62 223.76h1.5V224.78h-1.5zM1308.96 222.65h1.5V226.17h-1.5zM1312.31 222.45h1.5V223.60h-1.5zM1313.99 224.12h1.5V227.41h-1.5zM1317.33 225.48h1.5V226.76h-1.5zM1329.05 198.07h1.5V203.91h-1.5zM1330.72 203.87h1.5V210.36h-1.5zM1337.41 204.06h1.5V205.21h-1.5zM1342.43 182.97h1.5V184.70h-1.5zM1344.11 184.81h1.5V185.41h-1.5zM1345.78 184.74h1.5V189.19h-1.5zM1347.45 189.40h1.5V195.76h-1.5zM1349.13 195.81h1.5V203.43h-1.5zM1350.80 203.14h1.5V220.21h-1.5zM1354.15 216.68h1.5V218.45h-1.5zM1359.17 216.77h1.5V227.97h-1.5zM1365.86 218.40h1.5V229.83h-1.5zM1367.53 229.97h1.5V239.04h-1.5zM1369.21 238.76h1.5V270.58h-1.5zM1370.88 271.21h1.5V271.81h-1.5zM1372.55 271.30h1.5V284.05h-1.5zM1374.23 284.33h1.5V299.26h-1.5zM1375.90 299.14h1.5V314.06h-1.5zM1377.57 313.52h1.5V373.60h-1.5zM1382.59 319.34h1.5V321.45h-1.5zM1384.27 321.51h1.5V330.49h-1.5zM1385.94 330.44h1.5V335.13h-1.5zM1387.61 334.72h1.5V338.05h-1.5zM1389.29 338.13h1.5V345.05h-1.5zM1395.98 325.22h1.5V332.19h-1.5zM1397.66 332.22h1.5V342.16h-1.5zM1399.33 341.70h1.5V345.87h-1.5zM1402.68 341.39h1.5V342.06h-1.5zM1406.02 336.32h1.5V350.88h-1.5zM1407.70 350.49h1.5V367.82h-1.5zM1409.37 367.51h1.5V368.78h-1.5zM1414.39 343.45h1.5V350.20h-1.5zM1417.74 348.08h1.5V352.16h-1.5zM1422.76 309.91h1.5V319.23h-1.5z" fill="#f22c1e"/></g><line x1="0" y1="319.23" x2="1561" y2="319.23" stroke="#f6c4c0" stroke-width="1"/><path d="M571.5 287.5L639 140M639.32 144.49L639 140L635.39 142.69" stroke="#5a5a5e" stroke-width="0.9" fill="none"/><path d="M777.1 202.6L823.9 296.5M820.21 293.93L823.9 296.5L824.07 292.00" stroke="#5a5a5e" stroke-width="0.9" fill="none"/><path d="M1019.2 118.2L1027.8 66.0M1029.29 70.25L1027.8 66.0L1025.03 69.55" stroke="#5a5a5e" stroke-width="0.9" fill="none"/><path d="M1194 64.6L1262.4 191.9M1258.63 189.44L1262.4 191.9L1262.43 187.40" stroke="#5a5a5e" stroke-width="0.9" fill="none"/><path d="M1364 178.6L1396 316M1393.00 312.64L1396 316L1397.21 311.66" stroke="#5a5a5e" stroke-width="0.9" fill="none"/><text x="333.9" y="292.6" font-size="10.0" font-weight="bold" fill="#131318" textLength="89.2" lengthAdjust="spacingAndGlyphs" font-family='"Liberation Sans", sans-serif'>2024 Consolidation</text><text x="657.0" y="116.2" font-size="10.0" font-weight="bold" fill="#131318" textLength="119.0" lengthAdjust="spacingAndGlyphs" font-family='"Liberation Sans", sans-serif'>All time high consolidation</text><text x="895.9" y="69.4" font-size="10.0" font-weight="bold" fill="#131318" textLength="119.0" lengthAdjust="spacingAndGlyphs" font-family='"Liberation Sans", sans-serif'>All time high consolidation</text><text x="1045.1" y="30.9" font-size="10.0" font-weight="bold" fill="#131318" textLength="118.9" lengthAdjust="spacingAndGlyphs" font-family='"Liberation Sans", sans-serif'>All time high consolidation</text><text x="1258.9" y="163.9" font-size="10.0" font-weight="bold" fill="#131318" textLength="96.5" lengthAdjust="spacingAndGlyphs" font-family='"Liberation Sans", sans-serif'>Nov 2025 - Jan 2026</text><text x="1355.9" y="438.8" font-size="10.0" font-weight="bold" fill="#131318" textLength="99.4" lengthAdjust="spacingAndGlyphs" font-family='"Liberation Sans", sans-serif'>Current Consolidation</text><rect x="1561" y="0" width="39" height="592" fill="#f9f9fa"/><text x="1565.6" y="31.80" font-size="6.4" fill="#b9b9c6" font-family='"Liberation Sans", sans-serif'>136,000.00</text><text x="1565.6" y="48.53" font-size="6.4" fill="#b9b9c6" font-family='"Liberation Sans", sans-serif'>131,000.00</text><text x="1565.6" y="65.91" font-size="6.4" fill="#b9b9c6" font-family='"Liberation Sans", sans-serif'>126,000.00</text><text x="1565.6" y="83.99" font-size="6.4" fill="#b9b9c6" font-family='"Liberation Sans", sans-serif'>121,000.00</text><text x="1565.6" y="102.84" font-size="6.4" fill="#b9b9c6" font-family='"Liberation Sans", sans-serif'>116,000.00</text><text x="1565.6" y="118.51" font-size="6.4" fill="#b9b9c6" font-family='"Liberation Sans", sans-serif'>112,000.00</text><text x="1565.6" y="134.75" font-size="6.4" fill="#b9b9c6" font-family='"Liberation Sans", sans-serif'>108,000.00</text><text x="1565.6" y="151.61" font-size="6.4" fill="#b9b9c6" font-family='"Liberation Sans", sans-serif'>104,000.00</text><text x="1565.6" y="169.12" font-size="6.4" fill="#b9b9c6" font-family='"Liberation Sans", sans-serif'>100,000.00</text><text x="1565.6" y="187.35" font-size="6.4" fill="#b9b9c6" font-family='"Liberation Sans", sans-serif'>96,000.00</text><text x="1565.6" y="206.36" font-size="6.4" fill="#b9b9c6" font-family='"Liberation Sans", sans-serif'>92,000.00</text><text x="1565.6" y="226.21" font-size="6.4" fill="#b9b9c6" font-family='"Liberation Sans", sans-serif'>88,000.00</text><text x="1565.6" y="246.99" font-size="6.4" fill="#b9b9c6" font-family='"Liberation Sans", sans-serif'>84,000.00</text><text x="1565.6" y="268.78" font-size="6.4" fill="#b9b9c6" font-family='"Liberation Sans", sans-serif'>80,000.00</text><text x="1565.6" y="291.69" font-size="6.4" fill="#b9b9c6" font-family='"Liberation Sans", sans-serif'>76,000.00</text><text x="1565.6" y="309.67" font-size="6.4" fill="#b9b9c6" font-family='"Liberation Sans", sans-serif'>73,000.00</text><text x="1565.6" y="347.98" font-size="6.4" fill="#b9b9c6" font-family='"Liberation Sans", sans-serif'>67,000.00</text><text x="1565.6" y="368.43" font-size="6.4" fill="#b9b9c6" font-family='"Liberation Sans", sans-serif'>64,000.00</text><text x="1565.6" y="389.88" font-size="6.4" fill="#b9b9c6" font-family='"Liberation Sans", sans-serif'>61,000.00</text><text x="1565.6" y="404.76" font-size="6.4" fill="#b9b9c6" font-family='"Liberation Sans", sans-serif'>59,000.00</text><text x="1565.6" y="420.16" font-size="6.4" fill="#b9b9c6" font-family='"Liberation Sans", sans-serif'>57,000.00</text><text x="1565.6" y="436.12" font-size="6.4" fill="#b9b9c6" font-family='"Liberation Sans", sans-serif'>55,000.00</text><text x="1565.6" y="452.66" font-size="6.4" fill="#b9b9c6" font-family='"Liberation Sans", sans-serif'>53,000.00</text><text x="1565.6" y="469.84" font-size="6.4" fill="#b9b9c6" font-family='"Liberation Sans", sans-serif'>51,000.00</text><text x="1565.6" y="487.70" font-size="6.4" fill="#b9b9c6" font-family='"Liberation Sans", sans-serif'>49,000.00</text><text x="1565.6" y="503.95" font-size="6.4" fill="#b9b9c6" font-family='"Liberation Sans", sans-serif'>47,250.00</text><text x="1565.6" y="519.33" font-size="6.4" fill="#b9b9c6" font-family='"Liberation Sans", sans-serif'>45,650.00</text><text x="1565.6" y="535.27" font-size="6.4" fill="#b9b9c6" font-family='"Liberation Sans", sans-serif'>44,050.00</text><text x="1565.6" y="551.79" font-size="6.4" fill="#b9b9c6" font-family='"Liberation Sans", sans-serif'>42,450.00</text><text x="1565.6" y="566.77" font-size="6.4" fill="#b9b9c6" font-family='"Liberation Sans", sans-serif'>41,050.00</text><text x="1565.6" y="581.36" font-size="6.4" fill="#b9b9c6" font-family='"Liberation Sans", sans-serif'>39,730.00</text><rect x="1562.6" y="-4" width="42" height="15.5" rx="2.5" fill="#ffffff"/><text x="1566.8" y="7.9" font-size="6.9" font-weight="bold" fill="#3b3b4a" textLength="12.5" lengthAdjust="spacingAndGlyphs" font-family='"Liberation Sans", sans-serif'>USD</text><rect x="1561.3" y="315" width="35.5" height="14.7" rx="1.2" fill="#ee2b1e"/><text x="1565.3" y="320.9" font-size="6.2" fill="#ffffff" font-family='"Liberation Sans", sans-serif'>71,182.38</text><text x="1565.3" y="327.6" font-size="6.2" fill="#ffffff" font-family='"Liberation Sans", sans-serif'>48:37</text><text x="44.02" y="590.1" font-size="6.2" fill="#b9b9c6" text-anchor="middle" font-family='"Liberation Sans", sans-serif'>Dec</text><text x="96.00" y="590.1" font-size="6.5" font-weight="bold" fill="#a4a4ac" text-anchor="middle" font-family='"Liberation Sans", sans-serif'>2024</text><text x="147.78" y="590.1" font-size="6.2" fill="#b9b9c6" text-anchor="middle" font-family='"Liberation Sans", sans-serif'>Feb</text><text x="196.30" y="590.1" font-size="6.2" fill="#b9b9c6" text-anchor="middle" font-family='"Liberation Sans", sans-serif'>Mar</text><text x="248.18" y="590.1" font-size="6.2" fill="#b9b9c6" text-anchor="middle" font-family='"Liberation Sans", sans-serif'>Apr</text><text x="298.38" y="590.1" font-size="6.2" fill="#b9b9c6" text-anchor="middle" font-family='"Liberation Sans", sans-serif'>May</text><text x="350.26" y="590.1" font-size="6.2" fill="#b9b9c6" text-anchor="middle" font-family='"Liberation Sans", sans-serif'>Jun</text><text x="400.46" y="590.1" font-size="6.2" fill="#b9b9c6" text-anchor="middle" font-family='"Liberation Sans", sans-serif'>Jul</text><text x="452.33" y="590.1" font-size="6.2" fill="#b9b9c6" text-anchor="middle" font-family='"Liberation Sans", sans-serif'>Aug</text><text x="504.21" y="590.1" font-size="6.2" fill="#b9b9c6" text-anchor="middle" font-family='"Liberation Sans", sans-serif'>Sep</text><text x="554.41" y="590.1" font-size="6.2" fill="#b9b9c6" text-anchor="middle" font-family='"Liberation Sans", sans-serif'>Oct</text><text x="606.29" y="590.1" font-size="6.2" fill="#b9b9c6" text-anchor="middle" font-family='"Liberation Sans", sans-serif'>Nov</text><text x="656.49" y="590.1" font-size="6.2" fill="#b9b9c6" text-anchor="middle" font-family='"Liberation Sans", sans-serif'>Dec</text><text x="708.46" y="590.1" font-size="6.5" font-weight="bold" fill="#a4a4ac" text-anchor="middle" font-family='"Liberation Sans", sans-serif'>2025</text><text x="760.24" y="590.1" font-size="6.2" fill="#b9b9c6" text-anchor="middle" font-family='"Liberation Sans", sans-serif'>Feb</text><text x="807.10" y="590.1" font-size="6.2" fill="#b9b9c6" text-anchor="middle" font-family='"Liberation Sans", sans-serif'>Mar</text><text x="858.97" y="590.1" font-size="6.2" fill="#b9b9c6" text-anchor="middle" font-family='"Liberation Sans", sans-serif'>Apr</text><text x="909.17" y="590.1" font-size="6.2" fill="#b9b9c6" text-anchor="middle" font-family='"Liberation Sans", sans-serif'>May</text><text x="961.05" y="590.1" font-size="6.2" fill="#b9b9c6" text-anchor="middle" font-family='"Liberation Sans", sans-serif'>Jun</text><text x="1011.25" y="590.1" font-size="6.2" fill="#b9b9c6" text-anchor="middle" font-family='"Liberation Sans", sans-serif'>Jul</text><text x="1063.13" y="590.1" font-size="6.2" fill="#b9b9c6" text-anchor="middle" font-family='"Liberation Sans", sans-serif'>Aug</text><text x="1115.00" y="590.1" font-size="6.2" fill="#b9b9c6" text-anchor="middle" font-family='"Liberation Sans", sans-serif'>Sep</text><text x="1165.20" y="590.1" font-size="6.2" fill="#b9b9c6" text-anchor="middle" font-family='"Liberation Sans", sans-serif'>Oct</text><text x="1217.08" y="590.1" font-size="6.2" fill="#b9b9c6" text-anchor="middle" font-family='"Liberation Sans", sans-serif'>Nov</text><text x="1267.28" y="590.1" font-size="6.2" fill="#b9b9c6" text-anchor="middle" font-family='"Liberation Sans", sans-serif'>Dec</text><text x="1319.26" y="590.1" font-size="6.5" font-weight="bold" fill="#a4a4ac" text-anchor="middle" font-family='"Liberation Sans", sans-serif'>2026</text><text x="1371.03" y="590.1" font-size="6.2" fill="#b9b9c6" text-anchor="middle" font-family='"Liberation Sans", sans-serif'>Feb</text><text x="1417.89" y="590.1" font-size="6.2" fill="#b9b9c6" text-anchor="middle" font-family='"Liberation Sans", sans-serif'>Mar</text><text x="1469.76" y="590.1" font-size="6.2" fill="#b9b9c6" text-anchor="middle" font-family='"Liberation Sans", sans-serif'>Apr</text><text x="1519.96" y="590.1" font-size="6.2" fill="#b9b9c6" text-anchor="middle" font-family='"Liberation Sans", sans-serif'>May</text><text x="-1.5" y="7.7" font-size="6.4" fill="#aeaeba" textLength="94.30" lengthAdjust="spacingAndGlyphs" font-family='"Liberation Sans", sans-serif'>Bitcoin / U.S. Dollar · 1D · Coinbase</text><text x="96.9" y="7.7" font-size="6.4" fill="#aeaeba" textLength="4.00" lengthAdjust="spacingAndGlyphs" font-family='"Liberation Sans", sans-serif'>O</text><text x="101.25" y="7.7" font-size="6.4" fill="#ee4636" textLength="27.85" lengthAdjust="spacingAndGlyphs" font-family='"Liberation Sans", sans-serif'>72,683.26</text><text x="131.9" y="7.7" font-size="6.4" fill="#aeaeba" textLength="3.70" lengthAdjust="spacingAndGlyphs" font-family='"Liberation Sans", sans-serif'>H</text><text x="136.25" y="7.7" font-size="6.4" fill="#ee4636" textLength="27.85" lengthAdjust="spacingAndGlyphs" font-family='"Liberation Sans", sans-serif'>73,588.24</text><text x="167.5" y="7.7" font-size="6.4" fill="#aeaeba" textLength="2.40" lengthAdjust="spacingAndGlyphs" font-family='"Liberation Sans", sans-serif'>L</text><text x="170.6" y="7.7" font-size="6.4" fill="#ee4636" textLength="26.00" lengthAdjust="spacingAndGlyphs" font-family='"Liberation Sans", sans-serif'>70,639.01</text><text x="200.9" y="7.7" font-size="6.4" fill="#aeaeba" textLength="3.80" lengthAdjust="spacingAndGlyphs" font-family='"Liberation Sans", sans-serif'>C</text><text x="205.0" y="7.7" font-size="6.4" fill="#ee4636" textLength="25.90" lengthAdjust="spacingAndGlyphs" font-family='"Liberation Sans", sans-serif'>71,182.38</text><text x="234.1" y="7.7" font-size="6.4" fill="#ee4636" textLength="53.70" lengthAdjust="spacingAndGlyphs" font-family='"Liberation Sans", sans-serif'>−1,500.88 (−2.06%)</text></svg>
</body></html>
